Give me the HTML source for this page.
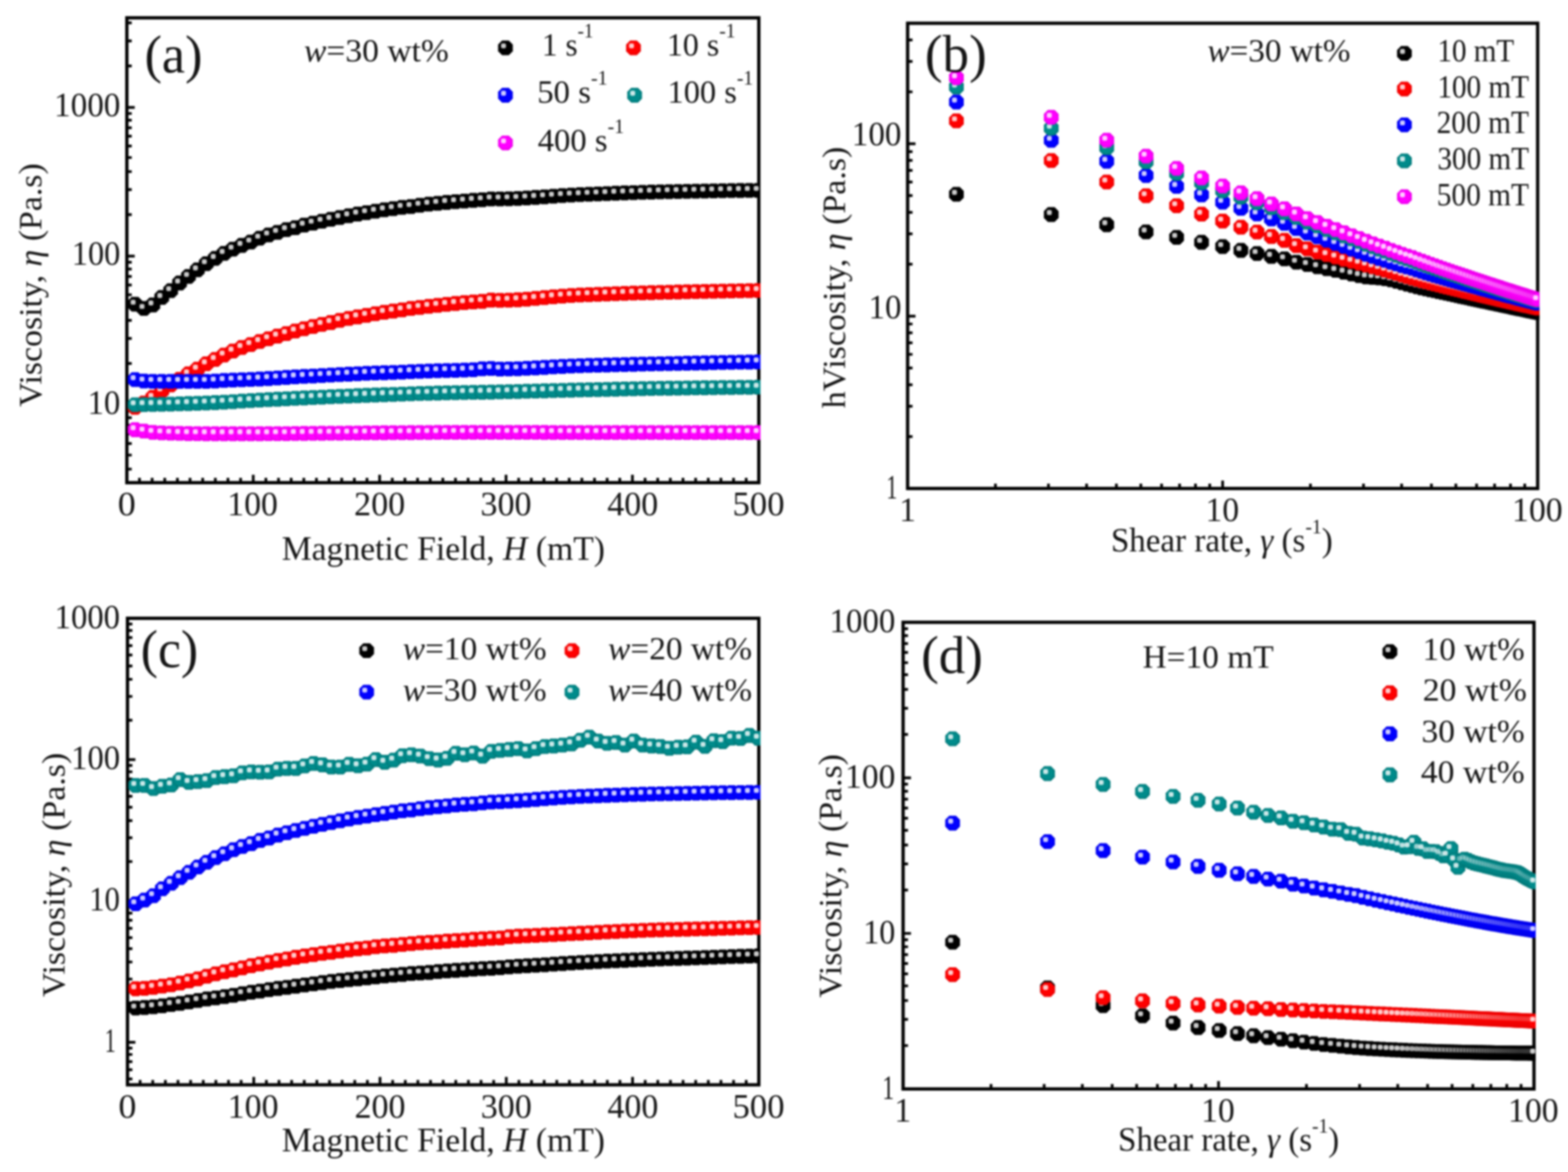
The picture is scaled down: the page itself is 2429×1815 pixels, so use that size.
<!DOCTYPE html>
<html lang="en"><head><meta charset="utf-8"><title>Viscosity figure</title>
<style>
html,body{margin:0;padding:0;background:#fff}
body{width:2429px;height:1815px;overflow:hidden}
svg{display:block;font-family:"Liberation Serif", serif;filter:blur(1.45px)}
text{white-space:pre;fill-opacity:0.92}
</style></head><body>

<svg xmlns="http://www.w3.org/2000/svg" width="2429" height="1815" viewBox="0 0 2429 1815">
<defs>
<radialGradient id="gk" cx="0.5" cy="0.5" r="0.5" fx="0.4" fy="0.4"><stop offset="0" stop-color="#000000"/><stop offset="0.75" stop-color="#000000"/><stop offset="1" stop-color="#000000"/></radialGradient>
<polygon id="k" points="-5.2,-11.4 5.2,-11.4 11.4,-5.2 11.4,5.2 5.2,11.4 -5.2,11.4 -11.4,5.2 -11.4,-5.2" fill="url(#gk)"/>
<radialGradient id="gr" cx="0.5" cy="0.5" r="0.5" fx="0.4" fy="0.4"><stop offset="0" stop-color="#ff0000"/><stop offset="0.75" stop-color="#ff0000"/><stop offset="1" stop-color="#e80000"/></radialGradient>
<polygon id="r" points="-5.2,-11.4 5.2,-11.4 11.4,-5.2 11.4,5.2 5.2,11.4 -5.2,11.4 -11.4,5.2 -11.4,-5.2" fill="url(#gr)"/>
<radialGradient id="gb" cx="0.5" cy="0.5" r="0.5" fx="0.4" fy="0.4"><stop offset="0" stop-color="#0000ff"/><stop offset="0.75" stop-color="#0000ff"/><stop offset="1" stop-color="#0000e8"/></radialGradient>
<polygon id="b" points="-5.2,-11.4 5.2,-11.4 11.4,-5.2 11.4,5.2 5.2,11.4 -5.2,11.4 -11.4,5.2 -11.4,-5.2" fill="url(#gb)"/>
<radialGradient id="gt" cx="0.5" cy="0.5" r="0.5" fx="0.4" fy="0.4"><stop offset="0" stop-color="#008b8b"/><stop offset="0.75" stop-color="#008b8b"/><stop offset="1" stop-color="#007878"/></radialGradient>
<polygon id="t" points="-5.2,-11.4 5.2,-11.4 11.4,-5.2 11.4,5.2 5.2,11.4 -5.2,11.4 -11.4,5.2 -11.4,-5.2" fill="url(#gt)"/>
<radialGradient id="gm" cx="0.5" cy="0.5" r="0.5" fx="0.4" fy="0.4"><stop offset="0" stop-color="#ff00ff"/><stop offset="0.75" stop-color="#ff00ff"/><stop offset="1" stop-color="#e800e8"/></radialGradient>
<polygon id="m" points="-5.2,-11.4 5.2,-11.4 11.4,-5.2 11.4,5.2 5.2,11.4 -5.2,11.4 -11.4,5.2 -11.4,-5.2" fill="url(#gm)"/>
<radialGradient id="gh"><stop offset="0" stop-color="#fff" stop-opacity="0.85"/><stop offset="0.45" stop-color="#fff" stop-opacity="0.75"/><stop offset="1" stop-color="#fff" stop-opacity="0"/></radialGradient>
<rect id="h" x="-6.8" y="-6.9" width="7.6" height="7.6" rx="2.2" fill="#fff" fill-opacity="0.8"/>
<clipPath id="cpa"><rect x="193.95" y="25.05" width="984.1" height="725"/></clipPath>
<clipPath id="cpb"><rect x="1403.45" y="33.45" width="981.1" height="725.6"/></clipPath>
<clipPath id="cpc"><rect x="194.95" y="954.95" width="983.1" height="727.6"/></clipPath>
<clipPath id="cpd"><rect x="1396.45" y="961.15" width="982.4" height="727.8"/></clipPath>
</defs>
<rect width="2429" height="1815" fill="#fff"/>
<g id="panel-a">
<rect x="196.5" y="27.6" width="979" height="719.9" fill="none" stroke="#000" stroke-width="5.1"/>
<path d="M392.3 747.5v-12.2M588.1 747.5v-12.2M783.9 747.5v-12.2M979.7 747.5v-12.2M216.08 747.5v-7.6M235.66 747.5v-7.6M255.24 747.5v-7.6M274.82 747.5v-7.6M294.4 747.5v-7.6M313.98 747.5v-7.6M333.56 747.5v-7.6M353.14 747.5v-7.6M372.72 747.5v-7.6M411.88 747.5v-7.6M431.46 747.5v-7.6M451.04 747.5v-7.6M470.62 747.5v-7.6M490.2 747.5v-7.6M509.78 747.5v-7.6M529.36 747.5v-7.6M548.94 747.5v-7.6M568.52 747.5v-7.6M607.68 747.5v-7.6M627.26 747.5v-7.6M646.84 747.5v-7.6M666.42 747.5v-7.6M686 747.5v-7.6M705.58 747.5v-7.6M725.16 747.5v-7.6M744.74 747.5v-7.6M764.32 747.5v-7.6M803.48 747.5v-7.6M823.06 747.5v-7.6M842.64 747.5v-7.6M862.22 747.5v-7.6M881.8 747.5v-7.6M901.38 747.5v-7.6M920.96 747.5v-7.6M940.54 747.5v-7.6M960.12 747.5v-7.6M999.28 747.5v-7.6M1018.86 747.5v-7.6M1038.44 747.5v-7.6M1058.02 747.5v-7.6M1077.6 747.5v-7.6M1097.18 747.5v-7.6M1116.76 747.5v-7.6M1136.34 747.5v-7.6M1155.92 747.5v-7.6" stroke="#000" stroke-width="4.2" fill="none"/>
<path d="M196.5 627.04h12.2M196.5 396.67h12.2M196.5 166.3h12.2M196.5 726.52h7.6M196.5 704.73h7.6M196.5 686.86h7.6M196.5 671.69h7.6M196.5 658.53h7.6M196.5 646.9h7.6M196.5 636.48h7.6M196.5 562.83h7.6M196.5 524.03h7.6M196.5 496.15h7.6M196.5 474.36h7.6M196.5 456.48h7.6M196.5 441.32h7.6M196.5 428.16h7.6M196.5 416.53h7.6M196.5 406.11h7.6M196.5 332.45h7.6M196.5 293.66h7.6M196.5 265.77h7.6M196.5 243.99h7.6M196.5 226.11h7.6M196.5 210.95h7.6M196.5 197.78h7.6M196.5 186.15h7.6M196.5 175.73h7.6M196.5 102.08h7.6M196.5 63.29h7.6M196.5 35.4h7.6" stroke="#000" stroke-width="4.2" fill="none"/>
<text transform="translate(83.85 179.8) scale(0.9867 1.0000)" font-size="52" fill="#000">1000</text>
<text transform="translate(111.14 410.17) scale(0.9653 1.0000)" font-size="52" fill="#000">100</text>
<text transform="translate(135.8 640.54) scale(0.9739 1.0000)" font-size="52" fill="#000">10</text>
<text transform="translate(182.61 798.3) scale(1.0682 1.0000)" font-size="52" fill="#000">0</text>
<text transform="translate(352.02 798.3) scale(1.0069 1.0000)" font-size="52" fill="#000">100</text>
<text transform="translate(548.57 798.3) scale(1.0135 1.0000)" font-size="52" fill="#000">200</text>
<text transform="translate(744.37 798.3) scale(1.0135 1.0000)" font-size="52" fill="#000">300</text>
<text transform="translate(940.69 798.3) scale(1.0133 1.0000)" font-size="52" fill="#000">400</text>
<text transform="translate(1134.65 798.3) scale(1.0342 1.0000)" font-size="52" fill="#000">500</text>
<text transform="translate(436.41 866.8) scale(0.9926 1.0000)" font-size="52.5" fill="#000">Magnetic Field, <tspan font-style="italic">H</tspan> (mT)</text>
<text transform="translate(64 630.1) rotate(-90) scale(1.0472 1.0000)" font-size="50" fill="#000">Viscosity, <tspan font-style="italic">η</tspan> (Pa.s)</text>
<g clip-path="url(#cpa)">
<use href="#k" x="209.2" y="471.13"/><use href="#k" x="222.99" y="477.63"/><use href="#k" x="236.78" y="472.25"/><use href="#k" x="250.57" y="460.71"/><use href="#k" x="264.35" y="450.12"/><use href="#k" x="278.14" y="438.27"/><use href="#k" x="291.93" y="428.05"/><use href="#k" x="305.72" y="417.97"/><use href="#k" x="319.51" y="408.31"/><use href="#k" x="333.3" y="400.18"/><use href="#k" x="347.09" y="392.46"/><use href="#k" x="360.87" y="385.81"/><use href="#k" x="374.66" y="380"/><use href="#k" x="388.45" y="374.87"/><use href="#k" x="402.24" y="368.91"/><use href="#k" x="416.03" y="363.92"/><use href="#k" x="429.82" y="359.86"/><use href="#k" x="443.61" y="355.72"/><use href="#k" x="457.39" y="352.54"/><use href="#k" x="471.18" y="348.69"/><use href="#k" x="484.97" y="345.64"/><use href="#k" x="498.76" y="342.61"/><use href="#k" x="512.55" y="339.69"/><use href="#k" x="526.34" y="336.93"/><use href="#k" x="540.13" y="334.22"/><use href="#k" x="553.91" y="331.51"/><use href="#k" x="567.7" y="329.34"/><use href="#k" x="581.49" y="327.14"/><use href="#k" x="595.28" y="324.97"/><use href="#k" x="609.07" y="323.03"/><use href="#k" x="622.86" y="321.13"/><use href="#k" x="636.65" y="319.78"/><use href="#k" x="650.43" y="317.86"/><use href="#k" x="664.22" y="316.2"/><use href="#k" x="678.01" y="314.88"/><use href="#k" x="691.8" y="313.5"/><use href="#k" x="705.59" y="312.39"/><use href="#k" x="719.38" y="311.33"/><use href="#k" x="733.17" y="310.23"/><use href="#k" x="746.95" y="309.42"/><use href="#k" x="760.74" y="308.07"/><use href="#k" x="774.53" y="308.03"/><use href="#k" x="788.32" y="307.82"/><use href="#k" x="802.11" y="307.32"/><use href="#k" x="815.9" y="306.61"/><use href="#k" x="829.69" y="305.74"/><use href="#k" x="843.47" y="304.79"/><use href="#k" x="857.26" y="303.82"/><use href="#k" x="871.05" y="302.89"/><use href="#k" x="884.84" y="302.08"/><use href="#k" x="898.63" y="301.44"/><use href="#k" x="912.42" y="300.87"/><use href="#k" x="926.21" y="300.32"/><use href="#k" x="939.99" y="299.78"/><use href="#k" x="953.78" y="299.26"/><use href="#k" x="967.57" y="298.77"/><use href="#k" x="981.36" y="298.31"/><use href="#k" x="995.15" y="297.88"/><use href="#k" x="1008.94" y="297.49"/><use href="#k" x="1022.73" y="297.15"/><use href="#k" x="1036.51" y="296.85"/><use href="#k" x="1050.3" y="296.57"/><use href="#k" x="1064.09" y="296.29"/><use href="#k" x="1077.88" y="296.03"/><use href="#k" x="1091.67" y="295.78"/><use href="#k" x="1105.46" y="295.56"/><use href="#k" x="1119.25" y="295.35"/><use href="#k" x="1133.03" y="295.16"/><use href="#k" x="1146.82" y="295.01"/><use href="#k" x="1160.61" y="294.88"/><use href="#k" x="1174.4" y="294.79"/><use href="#h" x="209.2" y="471.13"/><use href="#h" x="222.99" y="477.63"/><use href="#h" x="236.78" y="472.25"/><use href="#h" x="250.57" y="460.71"/><use href="#h" x="264.35" y="450.12"/><use href="#h" x="278.14" y="438.27"/><use href="#h" x="291.93" y="428.05"/><use href="#h" x="305.72" y="417.97"/><use href="#h" x="319.51" y="408.31"/><use href="#h" x="333.3" y="400.18"/><use href="#h" x="347.09" y="392.46"/><use href="#h" x="360.87" y="385.81"/><use href="#h" x="374.66" y="380"/><use href="#h" x="388.45" y="374.87"/><use href="#h" x="402.24" y="368.91"/><use href="#h" x="416.03" y="363.92"/><use href="#h" x="429.82" y="359.86"/><use href="#h" x="443.61" y="355.72"/><use href="#h" x="457.39" y="352.54"/><use href="#h" x="471.18" y="348.69"/><use href="#h" x="484.97" y="345.64"/><use href="#h" x="498.76" y="342.61"/><use href="#h" x="512.55" y="339.69"/><use href="#h" x="526.34" y="336.93"/><use href="#h" x="540.13" y="334.22"/><use href="#h" x="553.91" y="331.51"/><use href="#h" x="567.7" y="329.34"/><use href="#h" x="581.49" y="327.14"/><use href="#h" x="595.28" y="324.97"/><use href="#h" x="609.07" y="323.03"/><use href="#h" x="622.86" y="321.13"/><use href="#h" x="636.65" y="319.78"/><use href="#h" x="650.43" y="317.86"/><use href="#h" x="664.22" y="316.2"/><use href="#h" x="678.01" y="314.88"/><use href="#h" x="691.8" y="313.5"/><use href="#h" x="705.59" y="312.39"/><use href="#h" x="719.38" y="311.33"/><use href="#h" x="733.17" y="310.23"/><use href="#h" x="746.95" y="309.42"/><use href="#h" x="760.74" y="308.07"/><use href="#h" x="774.53" y="308.03"/><use href="#h" x="788.32" y="307.82"/><use href="#h" x="802.11" y="307.32"/><use href="#h" x="815.9" y="306.61"/><use href="#h" x="829.69" y="305.74"/><use href="#h" x="843.47" y="304.79"/><use href="#h" x="857.26" y="303.82"/><use href="#h" x="871.05" y="302.89"/><use href="#h" x="884.84" y="302.08"/><use href="#h" x="898.63" y="301.44"/><use href="#h" x="912.42" y="300.87"/><use href="#h" x="926.21" y="300.32"/><use href="#h" x="939.99" y="299.78"/><use href="#h" x="953.78" y="299.26"/><use href="#h" x="967.57" y="298.77"/><use href="#h" x="981.36" y="298.31"/><use href="#h" x="995.15" y="297.88"/><use href="#h" x="1008.94" y="297.49"/><use href="#h" x="1022.73" y="297.15"/><use href="#h" x="1036.51" y="296.85"/><use href="#h" x="1050.3" y="296.57"/><use href="#h" x="1064.09" y="296.29"/><use href="#h" x="1077.88" y="296.03"/><use href="#h" x="1091.67" y="295.78"/><use href="#h" x="1105.46" y="295.56"/><use href="#h" x="1119.25" y="295.35"/><use href="#h" x="1133.03" y="295.16"/><use href="#h" x="1146.82" y="295.01"/><use href="#h" x="1160.61" y="294.88"/><use href="#h" x="1174.4" y="294.79"/>
<use href="#r" x="209.2" y="630.89"/><use href="#r" x="222.99" y="624.12"/><use href="#r" x="236.78" y="615.33"/><use href="#r" x="250.57" y="605.4"/><use href="#r" x="264.35" y="596.12"/><use href="#r" x="278.14" y="587.29"/><use href="#r" x="291.93" y="579.01"/><use href="#r" x="305.72" y="571.73"/><use href="#r" x="319.51" y="563.46"/><use href="#r" x="333.3" y="556.7"/><use href="#r" x="347.09" y="549.8"/><use href="#r" x="360.87" y="543.69"/><use href="#r" x="374.66" y="538.16"/><use href="#r" x="388.45" y="533.55"/><use href="#r" x="402.24" y="528.96"/><use href="#r" x="416.03" y="524.54"/><use href="#r" x="429.82" y="520.48"/><use href="#r" x="443.61" y="516.61"/><use href="#r" x="457.39" y="512.63"/><use href="#r" x="471.18" y="509.03"/><use href="#r" x="484.97" y="505.72"/><use href="#r" x="498.76" y="502.41"/><use href="#r" x="512.55" y="499.5"/><use href="#r" x="526.34" y="496.19"/><use href="#r" x="540.13" y="493.21"/><use href="#r" x="553.91" y="490.77"/><use href="#r" x="567.7" y="488.34"/><use href="#r" x="581.49" y="485.85"/><use href="#r" x="595.28" y="483.68"/><use href="#r" x="609.07" y="481.75"/><use href="#r" x="622.86" y="479.86"/><use href="#r" x="636.65" y="477.69"/><use href="#r" x="650.43" y="476.03"/><use href="#r" x="664.22" y="474.37"/><use href="#r" x="678.01" y="472.78"/><use href="#r" x="691.8" y="471.39"/><use href="#r" x="705.59" y="470.02"/><use href="#r" x="719.38" y="468.69"/><use href="#r" x="733.17" y="467.58"/><use href="#r" x="746.95" y="466.77"/><use href="#r" x="760.74" y="464.75"/><use href="#r" x="774.53" y="465.1"/><use href="#r" x="788.32" y="464.89"/><use href="#r" x="802.11" y="464.27"/><use href="#r" x="815.9" y="463.34"/><use href="#r" x="829.69" y="462.21"/><use href="#r" x="843.47" y="460.97"/><use href="#r" x="857.26" y="459.72"/><use href="#r" x="871.05" y="458.55"/><use href="#r" x="884.84" y="457.58"/><use href="#r" x="898.63" y="456.88"/><use href="#r" x="912.42" y="456.31"/><use href="#r" x="926.21" y="455.78"/><use href="#r" x="939.99" y="455.28"/><use href="#r" x="953.78" y="454.82"/><use href="#r" x="967.57" y="454.38"/><use href="#r" x="981.36" y="453.97"/><use href="#r" x="995.15" y="453.59"/><use href="#r" x="1008.94" y="453.23"/><use href="#r" x="1022.73" y="452.88"/><use href="#r" x="1036.51" y="452.55"/><use href="#r" x="1050.3" y="452.23"/><use href="#r" x="1064.09" y="451.92"/><use href="#r" x="1077.88" y="451.62"/><use href="#r" x="1091.67" y="451.34"/><use href="#r" x="1105.46" y="451.06"/><use href="#r" x="1119.25" y="450.81"/><use href="#r" x="1133.03" y="450.57"/><use href="#r" x="1146.82" y="450.35"/><use href="#r" x="1160.61" y="450.15"/><use href="#r" x="1174.4" y="449.97"/><use href="#h" x="209.2" y="630.89"/><use href="#h" x="222.99" y="624.12"/><use href="#h" x="236.78" y="615.33"/><use href="#h" x="250.57" y="605.4"/><use href="#h" x="264.35" y="596.12"/><use href="#h" x="278.14" y="587.29"/><use href="#h" x="291.93" y="579.01"/><use href="#h" x="305.72" y="571.73"/><use href="#h" x="319.51" y="563.46"/><use href="#h" x="333.3" y="556.7"/><use href="#h" x="347.09" y="549.8"/><use href="#h" x="360.87" y="543.69"/><use href="#h" x="374.66" y="538.16"/><use href="#h" x="388.45" y="533.55"/><use href="#h" x="402.24" y="528.96"/><use href="#h" x="416.03" y="524.54"/><use href="#h" x="429.82" y="520.48"/><use href="#h" x="443.61" y="516.61"/><use href="#h" x="457.39" y="512.63"/><use href="#h" x="471.18" y="509.03"/><use href="#h" x="484.97" y="505.72"/><use href="#h" x="498.76" y="502.41"/><use href="#h" x="512.55" y="499.5"/><use href="#h" x="526.34" y="496.19"/><use href="#h" x="540.13" y="493.21"/><use href="#h" x="553.91" y="490.77"/><use href="#h" x="567.7" y="488.34"/><use href="#h" x="581.49" y="485.85"/><use href="#h" x="595.28" y="483.68"/><use href="#h" x="609.07" y="481.75"/><use href="#h" x="622.86" y="479.86"/><use href="#h" x="636.65" y="477.69"/><use href="#h" x="650.43" y="476.03"/><use href="#h" x="664.22" y="474.37"/><use href="#h" x="678.01" y="472.78"/><use href="#h" x="691.8" y="471.39"/><use href="#h" x="705.59" y="470.02"/><use href="#h" x="719.38" y="468.69"/><use href="#h" x="733.17" y="467.58"/><use href="#h" x="746.95" y="466.77"/><use href="#h" x="760.74" y="464.75"/><use href="#h" x="774.53" y="465.1"/><use href="#h" x="788.32" y="464.89"/><use href="#h" x="802.11" y="464.27"/><use href="#h" x="815.9" y="463.34"/><use href="#h" x="829.69" y="462.21"/><use href="#h" x="843.47" y="460.97"/><use href="#h" x="857.26" y="459.72"/><use href="#h" x="871.05" y="458.55"/><use href="#h" x="884.84" y="457.58"/><use href="#h" x="898.63" y="456.88"/><use href="#h" x="912.42" y="456.31"/><use href="#h" x="926.21" y="455.78"/><use href="#h" x="939.99" y="455.28"/><use href="#h" x="953.78" y="454.82"/><use href="#h" x="967.57" y="454.38"/><use href="#h" x="981.36" y="453.97"/><use href="#h" x="995.15" y="453.59"/><use href="#h" x="1008.94" y="453.23"/><use href="#h" x="1022.73" y="452.88"/><use href="#h" x="1036.51" y="452.55"/><use href="#h" x="1050.3" y="452.23"/><use href="#h" x="1064.09" y="451.92"/><use href="#h" x="1077.88" y="451.62"/><use href="#h" x="1091.67" y="451.34"/><use href="#h" x="1105.46" y="451.06"/><use href="#h" x="1119.25" y="450.81"/><use href="#h" x="1133.03" y="450.57"/><use href="#h" x="1146.82" y="450.35"/><use href="#h" x="1160.61" y="450.15"/><use href="#h" x="1174.4" y="449.97"/>
<use href="#b" x="209.2" y="587.95"/><use href="#b" x="222.99" y="590.04"/><use href="#b" x="236.78" y="590.61"/><use href="#b" x="250.57" y="590.61"/><use href="#b" x="264.35" y="590.61"/><use href="#b" x="278.14" y="590.61"/><use href="#b" x="291.93" y="590.61"/><use href="#b" x="305.72" y="590.61"/><use href="#b" x="319.51" y="590.6"/><use href="#b" x="333.3" y="590.04"/><use href="#b" x="347.09" y="589.21"/><use href="#b" x="360.87" y="588.65"/><use href="#b" x="374.66" y="588.13"/><use href="#b" x="388.45" y="587.61"/><use href="#b" x="402.24" y="587"/><use href="#b" x="416.03" y="586.23"/><use href="#b" x="429.82" y="585.36"/><use href="#b" x="443.61" y="584.48"/><use href="#b" x="457.39" y="583.68"/><use href="#b" x="471.18" y="582.97"/><use href="#b" x="484.97" y="582.28"/><use href="#b" x="498.76" y="581.61"/><use href="#b" x="512.55" y="580.93"/><use href="#b" x="526.34" y="580.21"/><use href="#b" x="540.13" y="579.49"/><use href="#b" x="553.91" y="578.81"/><use href="#b" x="567.7" y="578.21"/><use href="#b" x="581.49" y="577.71"/><use href="#b" x="595.28" y="577.25"/><use href="#b" x="609.07" y="576.79"/><use href="#b" x="622.86" y="576.28"/><use href="#b" x="636.65" y="575.71"/><use href="#b" x="650.43" y="575.12"/><use href="#b" x="664.22" y="574.57"/><use href="#b" x="678.01" y="574.13"/><use href="#b" x="691.8" y="573.82"/><use href="#b" x="705.59" y="573.54"/><use href="#b" x="719.38" y="573.19"/><use href="#b" x="733.17" y="572.56"/><use href="#b" x="746.95" y="571.22"/><use href="#b" x="760.74" y="570.58"/><use href="#b" x="774.53" y="571.55"/><use href="#b" x="788.32" y="571.42"/><use href="#b" x="802.11" y="571.04"/><use href="#b" x="815.9" y="570.47"/><use href="#b" x="829.69" y="569.77"/><use href="#b" x="843.47" y="569"/><use href="#b" x="857.26" y="568.22"/><use href="#b" x="871.05" y="567.48"/><use href="#b" x="884.84" y="566.84"/><use href="#b" x="898.63" y="566.36"/><use href="#b" x="912.42" y="565.96"/><use href="#b" x="926.21" y="565.58"/><use href="#b" x="939.99" y="565.23"/><use href="#b" x="953.78" y="564.89"/><use href="#b" x="967.57" y="564.57"/><use href="#b" x="981.36" y="564.26"/><use href="#b" x="995.15" y="563.97"/><use href="#b" x="1008.94" y="563.67"/><use href="#b" x="1022.73" y="563.38"/><use href="#b" x="1036.51" y="563.09"/><use href="#b" x="1050.3" y="562.8"/><use href="#b" x="1064.09" y="562.52"/><use href="#b" x="1077.88" y="562.25"/><use href="#b" x="1091.67" y="561.98"/><use href="#b" x="1105.46" y="561.71"/><use href="#b" x="1119.25" y="561.46"/><use href="#b" x="1133.03" y="561.21"/><use href="#b" x="1146.82" y="560.96"/><use href="#b" x="1160.61" y="560.73"/><use href="#b" x="1174.4" y="560.5"/><use href="#h" x="209.2" y="587.95"/><use href="#h" x="222.99" y="590.04"/><use href="#h" x="236.78" y="590.61"/><use href="#h" x="250.57" y="590.61"/><use href="#h" x="264.35" y="590.61"/><use href="#h" x="278.14" y="590.61"/><use href="#h" x="291.93" y="590.61"/><use href="#h" x="305.72" y="590.61"/><use href="#h" x="319.51" y="590.6"/><use href="#h" x="333.3" y="590.04"/><use href="#h" x="347.09" y="589.21"/><use href="#h" x="360.87" y="588.65"/><use href="#h" x="374.66" y="588.13"/><use href="#h" x="388.45" y="587.61"/><use href="#h" x="402.24" y="587"/><use href="#h" x="416.03" y="586.23"/><use href="#h" x="429.82" y="585.36"/><use href="#h" x="443.61" y="584.48"/><use href="#h" x="457.39" y="583.68"/><use href="#h" x="471.18" y="582.97"/><use href="#h" x="484.97" y="582.28"/><use href="#h" x="498.76" y="581.61"/><use href="#h" x="512.55" y="580.93"/><use href="#h" x="526.34" y="580.21"/><use href="#h" x="540.13" y="579.49"/><use href="#h" x="553.91" y="578.81"/><use href="#h" x="567.7" y="578.21"/><use href="#h" x="581.49" y="577.71"/><use href="#h" x="595.28" y="577.25"/><use href="#h" x="609.07" y="576.79"/><use href="#h" x="622.86" y="576.28"/><use href="#h" x="636.65" y="575.71"/><use href="#h" x="650.43" y="575.12"/><use href="#h" x="664.22" y="574.57"/><use href="#h" x="678.01" y="574.13"/><use href="#h" x="691.8" y="573.82"/><use href="#h" x="705.59" y="573.54"/><use href="#h" x="719.38" y="573.19"/><use href="#h" x="733.17" y="572.56"/><use href="#h" x="746.95" y="571.22"/><use href="#h" x="760.74" y="570.58"/><use href="#h" x="774.53" y="571.55"/><use href="#h" x="788.32" y="571.42"/><use href="#h" x="802.11" y="571.04"/><use href="#h" x="815.9" y="570.47"/><use href="#h" x="829.69" y="569.77"/><use href="#h" x="843.47" y="569"/><use href="#h" x="857.26" y="568.22"/><use href="#h" x="871.05" y="567.48"/><use href="#h" x="884.84" y="566.84"/><use href="#h" x="898.63" y="566.36"/><use href="#h" x="912.42" y="565.96"/><use href="#h" x="926.21" y="565.58"/><use href="#h" x="939.99" y="565.23"/><use href="#h" x="953.78" y="564.89"/><use href="#h" x="967.57" y="564.57"/><use href="#h" x="981.36" y="564.26"/><use href="#h" x="995.15" y="563.97"/><use href="#h" x="1008.94" y="563.67"/><use href="#h" x="1022.73" y="563.38"/><use href="#h" x="1036.51" y="563.09"/><use href="#h" x="1050.3" y="562.8"/><use href="#h" x="1064.09" y="562.52"/><use href="#h" x="1077.88" y="562.25"/><use href="#h" x="1091.67" y="561.98"/><use href="#h" x="1105.46" y="561.71"/><use href="#h" x="1119.25" y="561.46"/><use href="#h" x="1133.03" y="561.21"/><use href="#h" x="1146.82" y="560.96"/><use href="#h" x="1160.61" y="560.73"/><use href="#h" x="1174.4" y="560.5"/>
<use href="#t" x="209.2" y="626.81"/><use href="#t" x="222.99" y="626.66"/><use href="#t" x="236.78" y="626.43"/><use href="#t" x="250.57" y="626.14"/><use href="#t" x="264.35" y="625.8"/><use href="#t" x="278.14" y="625.42"/><use href="#t" x="291.93" y="624.99"/><use href="#t" x="305.72" y="624.54"/><use href="#t" x="319.51" y="624.08"/><use href="#t" x="333.3" y="623.51"/><use href="#t" x="347.09" y="622.82"/><use href="#t" x="360.87" y="622.03"/><use href="#t" x="374.66" y="621.21"/><use href="#t" x="388.45" y="620.41"/><use href="#t" x="402.24" y="619.66"/><use href="#t" x="416.03" y="618.95"/><use href="#t" x="429.82" y="618.25"/><use href="#t" x="443.61" y="617.57"/><use href="#t" x="457.39" y="616.91"/><use href="#t" x="471.18" y="616.27"/><use href="#t" x="484.97" y="615.64"/><use href="#t" x="498.76" y="615.03"/><use href="#t" x="512.55" y="614.44"/><use href="#t" x="526.34" y="613.87"/><use href="#t" x="540.13" y="613.31"/><use href="#t" x="553.91" y="612.77"/><use href="#t" x="567.7" y="612.25"/><use href="#t" x="581.49" y="611.75"/><use href="#t" x="595.28" y="611.26"/><use href="#t" x="609.07" y="610.79"/><use href="#t" x="622.86" y="610.34"/><use href="#t" x="636.65" y="609.89"/><use href="#t" x="650.43" y="609.46"/><use href="#t" x="664.22" y="609.07"/><use href="#t" x="678.01" y="608.73"/><use href="#t" x="691.8" y="608.42"/><use href="#t" x="705.59" y="608.14"/><use href="#t" x="719.38" y="607.89"/><use href="#t" x="733.17" y="607.67"/><use href="#t" x="746.95" y="607.49"/><use href="#t" x="760.74" y="607.27"/><use href="#t" x="774.53" y="606.95"/><use href="#t" x="788.32" y="606.63"/><use href="#t" x="802.11" y="606.29"/><use href="#t" x="815.9" y="605.95"/><use href="#t" x="829.69" y="605.6"/><use href="#t" x="843.47" y="605.26"/><use href="#t" x="857.26" y="604.92"/><use href="#t" x="871.05" y="604.59"/><use href="#t" x="884.84" y="604.27"/><use href="#t" x="898.63" y="603.96"/><use href="#t" x="912.42" y="603.66"/><use href="#t" x="926.21" y="603.35"/><use href="#t" x="939.99" y="603.05"/><use href="#t" x="953.78" y="602.75"/><use href="#t" x="967.57" y="602.46"/><use href="#t" x="981.36" y="602.18"/><use href="#t" x="995.15" y="601.92"/><use href="#t" x="1008.94" y="601.67"/><use href="#t" x="1022.73" y="601.44"/><use href="#t" x="1036.51" y="601.24"/><use href="#t" x="1050.3" y="601.04"/><use href="#t" x="1064.09" y="600.85"/><use href="#t" x="1077.88" y="600.67"/><use href="#t" x="1091.67" y="600.5"/><use href="#t" x="1105.46" y="600.34"/><use href="#t" x="1119.25" y="600.18"/><use href="#t" x="1133.03" y="600.04"/><use href="#t" x="1146.82" y="599.91"/><use href="#t" x="1160.61" y="599.79"/><use href="#t" x="1174.4" y="599.69"/><use href="#h" x="209.2" y="626.81"/><use href="#h" x="222.99" y="626.66"/><use href="#h" x="236.78" y="626.43"/><use href="#h" x="250.57" y="626.14"/><use href="#h" x="264.35" y="625.8"/><use href="#h" x="278.14" y="625.42"/><use href="#h" x="291.93" y="624.99"/><use href="#h" x="305.72" y="624.54"/><use href="#h" x="319.51" y="624.08"/><use href="#h" x="333.3" y="623.51"/><use href="#h" x="347.09" y="622.82"/><use href="#h" x="360.87" y="622.03"/><use href="#h" x="374.66" y="621.21"/><use href="#h" x="388.45" y="620.41"/><use href="#h" x="402.24" y="619.66"/><use href="#h" x="416.03" y="618.95"/><use href="#h" x="429.82" y="618.25"/><use href="#h" x="443.61" y="617.57"/><use href="#h" x="457.39" y="616.91"/><use href="#h" x="471.18" y="616.27"/><use href="#h" x="484.97" y="615.64"/><use href="#h" x="498.76" y="615.03"/><use href="#h" x="512.55" y="614.44"/><use href="#h" x="526.34" y="613.87"/><use href="#h" x="540.13" y="613.31"/><use href="#h" x="553.91" y="612.77"/><use href="#h" x="567.7" y="612.25"/><use href="#h" x="581.49" y="611.75"/><use href="#h" x="595.28" y="611.26"/><use href="#h" x="609.07" y="610.79"/><use href="#h" x="622.86" y="610.34"/><use href="#h" x="636.65" y="609.89"/><use href="#h" x="650.43" y="609.46"/><use href="#h" x="664.22" y="609.07"/><use href="#h" x="678.01" y="608.73"/><use href="#h" x="691.8" y="608.42"/><use href="#h" x="705.59" y="608.14"/><use href="#h" x="719.38" y="607.89"/><use href="#h" x="733.17" y="607.67"/><use href="#h" x="746.95" y="607.49"/><use href="#h" x="760.74" y="607.27"/><use href="#h" x="774.53" y="606.95"/><use href="#h" x="788.32" y="606.63"/><use href="#h" x="802.11" y="606.29"/><use href="#h" x="815.9" y="605.95"/><use href="#h" x="829.69" y="605.6"/><use href="#h" x="843.47" y="605.26"/><use href="#h" x="857.26" y="604.92"/><use href="#h" x="871.05" y="604.59"/><use href="#h" x="884.84" y="604.27"/><use href="#h" x="898.63" y="603.96"/><use href="#h" x="912.42" y="603.66"/><use href="#h" x="926.21" y="603.35"/><use href="#h" x="939.99" y="603.05"/><use href="#h" x="953.78" y="602.75"/><use href="#h" x="967.57" y="602.46"/><use href="#h" x="981.36" y="602.18"/><use href="#h" x="995.15" y="601.92"/><use href="#h" x="1008.94" y="601.67"/><use href="#h" x="1022.73" y="601.44"/><use href="#h" x="1036.51" y="601.24"/><use href="#h" x="1050.3" y="601.04"/><use href="#h" x="1064.09" y="600.85"/><use href="#h" x="1077.88" y="600.67"/><use href="#h" x="1091.67" y="600.5"/><use href="#h" x="1105.46" y="600.34"/><use href="#h" x="1119.25" y="600.18"/><use href="#h" x="1133.03" y="600.04"/><use href="#h" x="1146.82" y="599.91"/><use href="#h" x="1160.61" y="599.79"/><use href="#h" x="1174.4" y="599.69"/>
<use href="#m" x="209.2" y="665.52"/><use href="#m" x="222.99" y="667.6"/><use href="#m" x="236.78" y="669.54"/><use href="#m" x="250.57" y="670.4"/><use href="#m" x="264.35" y="670.91"/><use href="#m" x="278.14" y="671.22"/><use href="#m" x="291.93" y="671.49"/><use href="#m" x="305.72" y="671.67"/><use href="#m" x="319.51" y="671.73"/><use href="#m" x="333.3" y="671.73"/><use href="#m" x="347.09" y="671.73"/><use href="#m" x="360.87" y="671.73"/><use href="#m" x="374.66" y="671.73"/><use href="#m" x="388.45" y="671.73"/><use href="#m" x="402.24" y="671.73"/><use href="#m" x="416.03" y="671.7"/><use href="#m" x="429.82" y="671.63"/><use href="#m" x="443.61" y="671.53"/><use href="#m" x="457.39" y="671.4"/><use href="#m" x="471.18" y="671.27"/><use href="#m" x="484.97" y="671.13"/><use href="#m" x="498.76" y="671"/><use href="#m" x="512.55" y="670.89"/><use href="#m" x="526.34" y="670.79"/><use href="#m" x="540.13" y="670.68"/><use href="#m" x="553.91" y="670.57"/><use href="#m" x="567.7" y="670.46"/><use href="#m" x="581.49" y="670.35"/><use href="#m" x="595.28" y="670.25"/><use href="#m" x="609.07" y="670.16"/><use href="#m" x="622.86" y="670.07"/><use href="#m" x="636.65" y="669.98"/><use href="#m" x="650.43" y="669.89"/><use href="#m" x="664.22" y="669.8"/><use href="#m" x="678.01" y="669.71"/><use href="#m" x="691.8" y="669.64"/><use href="#m" x="705.59" y="669.59"/><use href="#m" x="719.38" y="669.56"/><use href="#m" x="733.17" y="669.55"/><use href="#m" x="746.95" y="669.55"/><use href="#m" x="760.74" y="669.55"/><use href="#m" x="774.53" y="669.55"/><use href="#m" x="788.32" y="669.56"/><use href="#m" x="802.11" y="669.6"/><use href="#m" x="815.9" y="669.65"/><use href="#m" x="829.69" y="669.71"/><use href="#m" x="843.47" y="669.77"/><use href="#m" x="857.26" y="669.83"/><use href="#m" x="871.05" y="669.88"/><use href="#m" x="884.84" y="669.91"/><use href="#m" x="898.63" y="669.92"/><use href="#m" x="912.42" y="669.92"/><use href="#m" x="926.21" y="669.92"/><use href="#m" x="939.99" y="669.92"/><use href="#m" x="953.78" y="669.92"/><use href="#m" x="967.57" y="669.92"/><use href="#m" x="981.36" y="669.92"/><use href="#m" x="995.15" y="669.92"/><use href="#m" x="1008.94" y="669.92"/><use href="#m" x="1022.73" y="669.92"/><use href="#m" x="1036.51" y="669.92"/><use href="#m" x="1050.3" y="669.92"/><use href="#m" x="1064.09" y="669.92"/><use href="#m" x="1077.88" y="669.92"/><use href="#m" x="1091.67" y="669.92"/><use href="#m" x="1105.46" y="669.92"/><use href="#m" x="1119.25" y="669.92"/><use href="#m" x="1133.03" y="669.92"/><use href="#m" x="1146.82" y="669.92"/><use href="#m" x="1160.61" y="669.92"/><use href="#m" x="1174.4" y="669.92"/><use href="#h" x="209.2" y="665.52"/><use href="#h" x="222.99" y="667.6"/><use href="#h" x="236.78" y="669.54"/><use href="#h" x="250.57" y="670.4"/><use href="#h" x="264.35" y="670.91"/><use href="#h" x="278.14" y="671.22"/><use href="#h" x="291.93" y="671.49"/><use href="#h" x="305.72" y="671.67"/><use href="#h" x="319.51" y="671.73"/><use href="#h" x="333.3" y="671.73"/><use href="#h" x="347.09" y="671.73"/><use href="#h" x="360.87" y="671.73"/><use href="#h" x="374.66" y="671.73"/><use href="#h" x="388.45" y="671.73"/><use href="#h" x="402.24" y="671.73"/><use href="#h" x="416.03" y="671.7"/><use href="#h" x="429.82" y="671.63"/><use href="#h" x="443.61" y="671.53"/><use href="#h" x="457.39" y="671.4"/><use href="#h" x="471.18" y="671.27"/><use href="#h" x="484.97" y="671.13"/><use href="#h" x="498.76" y="671"/><use href="#h" x="512.55" y="670.89"/><use href="#h" x="526.34" y="670.79"/><use href="#h" x="540.13" y="670.68"/><use href="#h" x="553.91" y="670.57"/><use href="#h" x="567.7" y="670.46"/><use href="#h" x="581.49" y="670.35"/><use href="#h" x="595.28" y="670.25"/><use href="#h" x="609.07" y="670.16"/><use href="#h" x="622.86" y="670.07"/><use href="#h" x="636.65" y="669.98"/><use href="#h" x="650.43" y="669.89"/><use href="#h" x="664.22" y="669.8"/><use href="#h" x="678.01" y="669.71"/><use href="#h" x="691.8" y="669.64"/><use href="#h" x="705.59" y="669.59"/><use href="#h" x="719.38" y="669.56"/><use href="#h" x="733.17" y="669.55"/><use href="#h" x="746.95" y="669.55"/><use href="#h" x="760.74" y="669.55"/><use href="#h" x="774.53" y="669.55"/><use href="#h" x="788.32" y="669.56"/><use href="#h" x="802.11" y="669.6"/><use href="#h" x="815.9" y="669.65"/><use href="#h" x="829.69" y="669.71"/><use href="#h" x="843.47" y="669.77"/><use href="#h" x="857.26" y="669.83"/><use href="#h" x="871.05" y="669.88"/><use href="#h" x="884.84" y="669.91"/><use href="#h" x="898.63" y="669.92"/><use href="#h" x="912.42" y="669.92"/><use href="#h" x="926.21" y="669.92"/><use href="#h" x="939.99" y="669.92"/><use href="#h" x="953.78" y="669.92"/><use href="#h" x="967.57" y="669.92"/><use href="#h" x="981.36" y="669.92"/><use href="#h" x="995.15" y="669.92"/><use href="#h" x="1008.94" y="669.92"/><use href="#h" x="1022.73" y="669.92"/><use href="#h" x="1036.51" y="669.92"/><use href="#h" x="1050.3" y="669.92"/><use href="#h" x="1064.09" y="669.92"/><use href="#h" x="1077.88" y="669.92"/><use href="#h" x="1091.67" y="669.92"/><use href="#h" x="1105.46" y="669.92"/><use href="#h" x="1119.25" y="669.92"/><use href="#h" x="1133.03" y="669.92"/><use href="#h" x="1146.82" y="669.92"/><use href="#h" x="1160.61" y="669.92"/><use href="#h" x="1174.4" y="669.92"/>
</g>
<text transform="translate(223.95 112) scale(0.9847 1.0000)" font-size="82" fill="#000">(a)</text>
<text transform="translate(470.88 94.5) scale(1.0198 1.0000)" font-size="51" fill="#000"><tspan font-style="italic">w</tspan>=30 wt%</text>
<use href="#k" x="783" y="74.1"/><use href="#h" x="783" y="74.1"/>
<use href="#r" x="981.3" y="74.1"/><use href="#h" x="981.3" y="74.1"/>
<use href="#b" x="783" y="147.5"/><use href="#h" x="783" y="147.5"/>
<use href="#t" x="983.1" y="147.5"/><use href="#h" x="983.1" y="147.5"/>
<use href="#m" x="783" y="221.3"/><use href="#h" x="783" y="221.3"/>
<text transform="translate(839.6 86) scale(0.9500 1.0000)" font-size="51" fill="#000">1 s<tspan font-size="31" dy="-28">-1</tspan></text>
<text transform="translate(1033.01 86) scale(0.9721 1.0000)" font-size="51" fill="#000">10 s<tspan font-size="31" dy="-28">-1</tspan></text>
<text transform="translate(832.21 159.4) scale(0.9962 1.0000)" font-size="51" fill="#000">50 s<tspan font-size="31" dy="-28">-1</tspan></text>
<text transform="translate(1034.06 159.4) scale(0.9845 1.0000)" font-size="51" fill="#000">100 s<tspan font-size="31" dy="-28">-1</tspan></text>
<text transform="translate(833.01 233.5) scale(0.9924 1.0000)" font-size="51" fill="#000">400 s<tspan font-size="31" dy="-28">-1</tspan></text>
</g>
<g id="panel-b">
<rect x="1406" y="36" width="976" height="720.5" fill="none" stroke="#000" stroke-width="5.1"/>
<path d="M1894 756.5v-12.2M1542.03 756.5v-7.6M1624.21 756.5v-7.6M1683.28 756.5v-7.6M1729.43 756.5v-7.6M1767.3 756.5v-7.6M1799.42 756.5v-7.6M1827.3 756.5v-7.6M1851.94 756.5v-7.6M1874.01 756.5v-7.6M2030.03 756.5v-7.6M2112.21 756.5v-7.6M2171.28 756.5v-7.6M2217.43 756.5v-7.6M2255.3 756.5v-7.6M2287.42 756.5v-7.6M2315.3 756.5v-7.6M2339.94 756.5v-7.6M2362.01 756.5v-7.6" stroke="#000" stroke-width="4.2" fill="none"/>
<path d="M1406 489.55h12.2M1406 222.59h12.2M1406 676.14h7.6M1406 629.13h7.6M1406 595.78h7.6M1406 569.91h7.6M1406 548.77h7.6M1406 530.9h7.6M1406 515.42h7.6M1406 501.76h7.6M1406 409.19h7.6M1406 362.18h7.6M1406 328.82h7.6M1406 302.95h7.6M1406 281.82h7.6M1406 263.94h7.6M1406 248.46h7.6M1406 234.81h7.6M1406 142.23h7.6M1406 95.22h7.6M1406 61.87h7.6" stroke="#000" stroke-width="4.2" fill="none"/>
<text transform="translate(1319.56 225) scale(0.9847 1.0000)" font-size="52" fill="#000">100</text>
<text transform="translate(1345.49 492.5) scale(0.9783 1.0000)" font-size="52" fill="#000">10</text>
<text transform="translate(1373.07 772) scale(0.6579 1.0000)" font-size="52" fill="#000">1</text>
<text transform="translate(1393 807) scale(1.0000 1.0000)" font-size="52" fill="#000">1</text>
<text transform="translate(1867.5 807) scale(1.0000 1.0000)" font-size="52" fill="#000">10</text>
<text transform="translate(2342.22 807) scale(1.0069 1.0000)" font-size="52" fill="#000">100</text>
<text transform="translate(1720.88 854.3) scale(0.9744 1.0000)" font-size="52.5" fill="#000">Shear rate, <tspan font-style="italic">γ</tspan> (s<tspan font-size="31" dy="-28">-1</tspan><tspan dy="28">)</tspan></text>
<text transform="translate(1308.9 632.2) rotate(-90) scale(1.0517 1.0000)" font-size="50" fill="#000">hViscosity, <tspan font-style="italic">η</tspan> (Pa.s)</text>
<g clip-path="url(#cpb)">
<use href="#k" x="1481.59" y="300.93"/><use href="#k" x="1628.49" y="332.23"/><use href="#k" x="1714.43" y="348.02"/><use href="#k" x="1775.4" y="359.18"/><use href="#k" x="1822.69" y="367.62"/><use href="#k" x="1861.33" y="375.25"/><use href="#k" x="1894" y="381.78"/><use href="#k" x="1922.3" y="387.77"/><use href="#k" x="1947.26" y="392.67"/><use href="#k" x="1969.59" y="397.02"/><use href="#k" x="1989.79" y="400.83"/><use href="#k" x="2008.23" y="406.06"/><use href="#k" x="2025.2" y="409.66"/><use href="#k" x="2040.9" y="413.02"/><use href="#k" x="2055.52" y="416.03"/><use href="#k" x="2069.2" y="418.68"/><use href="#k" x="2082.05" y="421.49"/><use href="#k" x="2094.17" y="424.23"/><use href="#k" x="2105.62" y="426.76"/><use href="#k" x="2116.49" y="428.9"/><use href="#k" x="2126.84" y="429.58"/><use href="#k" x="2136.69" y="430.26"/><use href="#k" x="2146.12" y="431.58"/><use href="#k" x="2155.14" y="433.41"/><use href="#k" x="2163.79" y="435.54"/><use href="#k" x="2172.1" y="437.79"/><use href="#k" x="2180.1" y="440.03"/><use href="#k" x="2187.81" y="442.15"/><use href="#k" x="2195.24" y="444.08"/><use href="#k" x="2202.43" y="445.75"/><use href="#k" x="2209.38" y="447.3"/><use href="#k" x="2216.11" y="448.79"/><use href="#k" x="2222.63" y="450.22"/><use href="#k" x="2228.95" y="451.6"/><use href="#k" x="2235.1" y="452.93"/><use href="#k" x="2241.07" y="454.22"/><use href="#k" x="2246.87" y="455.46"/><use href="#k" x="2252.53" y="456.67"/><use href="#k" x="2258.03" y="457.84"/><use href="#k" x="2263.4" y="458.99"/><use href="#k" x="2268.63" y="460.1"/><use href="#k" x="2273.74" y="461.19"/><use href="#k" x="2278.72" y="462.25"/><use href="#k" x="2283.6" y="463.28"/><use href="#k" x="2288.36" y="464.3"/><use href="#k" x="2293.02" y="465.3"/><use href="#k" x="2297.58" y="466.27"/><use href="#k" x="2302.04" y="467.22"/><use href="#k" x="2306.41" y="468.15"/><use href="#k" x="2310.69" y="469.06"/><use href="#k" x="2314.89" y="469.96"/><use href="#k" x="2319" y="470.83"/><use href="#k" x="2323.04" y="471.69"/><use href="#k" x="2327" y="472.53"/><use href="#k" x="2330.89" y="473.35"/><use href="#k" x="2334.71" y="474.16"/><use href="#k" x="2338.46" y="474.95"/><use href="#k" x="2342.15" y="475.73"/><use href="#k" x="2345.77" y="476.49"/><use href="#k" x="2349.33" y="477.25"/><use href="#k" x="2352.83" y="477.98"/><use href="#k" x="2356.28" y="478.71"/><use href="#k" x="2359.67" y="479.42"/><use href="#k" x="2363.01" y="480.12"/><use href="#k" x="2366.29" y="480.81"/><use href="#k" x="2369.53" y="481.49"/><use href="#k" x="2372.72" y="482.16"/><use href="#k" x="2375.86" y="482.82"/><use href="#k" x="2378.95" y="483.47"/><use href="#k" x="2382" y="484.1"/><use href="#h" x="1481.59" y="300.93"/><use href="#h" x="1628.49" y="332.23"/><use href="#h" x="1714.43" y="348.02"/><use href="#h" x="1775.4" y="359.18"/><use href="#h" x="1822.69" y="367.62"/><use href="#h" x="1861.33" y="375.25"/><use href="#h" x="1894" y="381.78"/><use href="#h" x="1922.3" y="387.77"/><use href="#h" x="1947.26" y="392.67"/><use href="#h" x="1969.59" y="397.02"/><use href="#h" x="1989.79" y="400.83"/><use href="#h" x="2008.23" y="406.06"/><use href="#h" x="2025.2" y="409.66"/><use href="#h" x="2040.9" y="413.02"/><use href="#h" x="2055.52" y="416.03"/><use href="#h" x="2069.2" y="418.68"/><use href="#h" x="2082.05" y="421.49"/><use href="#h" x="2094.17" y="424.23"/><use href="#h" x="2105.62" y="426.76"/><use href="#h" x="2116.49" y="428.9"/><use href="#h" x="2126.84" y="429.58"/><use href="#h" x="2136.69" y="430.26"/><use href="#h" x="2146.12" y="431.58"/><use href="#h" x="2155.14" y="433.41"/><use href="#h" x="2163.79" y="435.54"/><use href="#h" x="2172.1" y="437.79"/><use href="#h" x="2180.1" y="440.03"/><use href="#h" x="2187.81" y="442.15" opacity="0.93"/><use href="#h" x="2195.24" y="444.08" opacity="0.86"/><use href="#h" x="2202.43" y="445.75" opacity="0.8"/><use href="#h" x="2209.38" y="447.3" opacity="0.75"/><use href="#h" x="2216.11" y="448.79" opacity="0.71"/><use href="#h" x="2222.63" y="450.22" opacity="0.66"/><use href="#h" x="2228.95" y="451.6" opacity="0.62"/><use href="#h" x="2235.1" y="452.93" opacity="0.59"/><use href="#h" x="2241.07" y="454.22" opacity="0.55"/><use href="#h" x="2246.87" y="455.46" opacity="0.52"/><use href="#h" x="2252.53" y="456.67" opacity="0.49"/><use href="#h" x="2258.03" y="457.84" opacity="0.47"/><use href="#h" x="2263.4" y="458.99" opacity="0.44"/><use href="#h" x="2268.63" y="460.1" opacity="0.42"/><use href="#h" x="2273.74" y="461.19" opacity="0.4"/><use href="#h" x="2278.72" y="462.25" opacity="0.38"/><use href="#h" x="2283.6" y="463.28" opacity="0.36"/><use href="#h" x="2288.36" y="464.3" opacity="0.34"/><use href="#h" x="2293.02" y="465.3" opacity="0.32"/><use href="#h" x="2297.58" y="466.27" opacity="0.3"/><use href="#h" x="2302.04" y="467.22" opacity="0.29"/><use href="#h" x="2306.41" y="468.15" opacity="0.27"/><use href="#h" x="2310.69" y="469.06" opacity="0.26"/><use href="#h" x="2314.89" y="469.96" opacity="0.25"/><use href="#h" x="2319" y="470.83" opacity="0.23"/><use href="#h" x="2323.04" y="471.69" opacity="0.22"/><use href="#h" x="2327" y="472.53" opacity="0.21"/><use href="#h" x="2330.89" y="473.35" opacity="0.2"/><use href="#h" x="2334.71" y="474.16" opacity="0.19"/><use href="#h" x="2338.46" y="474.95" opacity="0.18"/><use href="#h" x="2342.15" y="475.73" opacity="0.17"/><use href="#h" x="2345.77" y="476.49" opacity="0.16"/><use href="#h" x="2349.33" y="477.25" opacity="0.15"/><use href="#h" x="2352.83" y="477.98" opacity="0.15"/><use href="#h" x="2356.28" y="478.71" opacity="0.14"/><use href="#h" x="2359.67" y="479.42" opacity="0.13"/><use href="#h" x="2363.01" y="480.12" opacity="0.12"/><use href="#h" x="2366.29" y="480.81" opacity="0.12"/><use href="#h" x="2369.53" y="481.49" opacity="0.12"/><use href="#h" x="2372.72" y="482.16" opacity="0.12"/><use href="#h" x="2375.86" y="482.82" opacity="0.12"/><use href="#h" x="2378.95" y="483.47" opacity="0.12"/><use href="#h" x="2382" y="484.1"/>
<use href="#r" x="1481.59" y="187.13"/><use href="#r" x="1628.49" y="248.66"/><use href="#r" x="1714.43" y="281.87"/><use href="#r" x="1775.4" y="303.1"/><use href="#r" x="1822.69" y="318.62"/><use href="#r" x="1861.33" y="331.69"/><use href="#r" x="1894" y="342.3"/><use href="#r" x="1922.3" y="351.83"/><use href="#r" x="1947.26" y="359.46"/><use href="#r" x="1969.59" y="366.26"/><use href="#r" x="1989.79" y="372.25"/><use href="#r" x="2008.23" y="380.35"/><use href="#r" x="2025.2" y="385.34"/><use href="#r" x="2040.9" y="390.39"/><use href="#r" x="2055.52" y="394.32"/><use href="#r" x="2069.2" y="398.07"/><use href="#r" x="2082.05" y="401.56"/><use href="#r" x="2094.17" y="404.53"/><use href="#r" x="2105.62" y="407.51"/><use href="#r" x="2116.49" y="410.3"/><use href="#r" x="2126.84" y="413.05"/><use href="#r" x="2136.69" y="415.65"/><use href="#r" x="2146.12" y="418.3"/><use href="#r" x="2155.14" y="420.91"/><use href="#r" x="2163.79" y="423.47"/><use href="#r" x="2172.1" y="425.94"/><use href="#r" x="2180.1" y="428.29"/><use href="#r" x="2187.81" y="430.52"/><use href="#r" x="2195.24" y="432.61"/><use href="#r" x="2202.43" y="434.55"/><use href="#r" x="2209.38" y="436.39"/><use href="#r" x="2216.11" y="438.15"/><use href="#r" x="2222.63" y="439.83"/><use href="#r" x="2228.95" y="441.45"/><use href="#r" x="2235.1" y="443"/><use href="#r" x="2241.07" y="444.49"/><use href="#r" x="2246.87" y="445.93"/><use href="#r" x="2252.53" y="447.32"/><use href="#r" x="2258.03" y="448.67"/><use href="#r" x="2263.4" y="449.97"/><use href="#r" x="2268.63" y="451.23"/><use href="#r" x="2273.74" y="452.46"/><use href="#r" x="2278.72" y="453.65"/><use href="#r" x="2283.6" y="454.81"/><use href="#r" x="2288.36" y="455.95"/><use href="#r" x="2293.02" y="457.05"/><use href="#r" x="2297.58" y="458.12"/><use href="#r" x="2302.04" y="459.17"/><use href="#r" x="2306.41" y="460.19"/><use href="#r" x="2310.69" y="461.19"/><use href="#r" x="2314.89" y="462.16"/><use href="#r" x="2319" y="463.11"/><use href="#r" x="2323.04" y="464.04"/><use href="#r" x="2327" y="464.94"/><use href="#r" x="2330.89" y="465.83"/><use href="#r" x="2334.71" y="466.69"/><use href="#r" x="2338.46" y="467.54"/><use href="#r" x="2342.15" y="468.37"/><use href="#r" x="2345.77" y="469.18"/><use href="#r" x="2349.33" y="469.98"/><use href="#r" x="2352.83" y="470.75"/><use href="#r" x="2356.28" y="471.52"/><use href="#r" x="2359.67" y="472.26"/><use href="#r" x="2363.01" y="473"/><use href="#r" x="2366.29" y="473.71"/><use href="#r" x="2369.53" y="474.42"/><use href="#r" x="2372.72" y="475.11"/><use href="#r" x="2375.86" y="475.79"/><use href="#r" x="2378.95" y="476.45"/><use href="#r" x="2382" y="477.11"/><use href="#h" x="1481.59" y="187.13"/><use href="#h" x="1628.49" y="248.66"/><use href="#h" x="1714.43" y="281.87"/><use href="#h" x="1775.4" y="303.1"/><use href="#h" x="1822.69" y="318.62"/><use href="#h" x="1861.33" y="331.69"/><use href="#h" x="1894" y="342.3"/><use href="#h" x="1922.3" y="351.83"/><use href="#h" x="1947.26" y="359.46"/><use href="#h" x="1969.59" y="366.26"/><use href="#h" x="1989.79" y="372.25"/><use href="#h" x="2008.23" y="380.35"/><use href="#h" x="2025.2" y="385.34"/><use href="#h" x="2040.9" y="390.39"/><use href="#h" x="2055.52" y="394.32"/><use href="#h" x="2069.2" y="398.07"/><use href="#h" x="2082.05" y="401.56"/><use href="#h" x="2094.17" y="404.53"/><use href="#h" x="2105.62" y="407.51"/><use href="#h" x="2116.49" y="410.3"/><use href="#h" x="2126.84" y="413.05"/><use href="#h" x="2136.69" y="415.65"/><use href="#h" x="2146.12" y="418.3"/><use href="#h" x="2155.14" y="420.91"/><use href="#h" x="2163.79" y="423.47"/><use href="#h" x="2172.1" y="425.94"/><use href="#h" x="2180.1" y="428.29"/><use href="#h" x="2187.81" y="430.52" opacity="0.94"/><use href="#h" x="2195.24" y="432.61" opacity="0.87"/><use href="#h" x="2202.43" y="434.55" opacity="0.82"/><use href="#h" x="2209.38" y="436.39" opacity="0.76"/><use href="#h" x="2216.11" y="438.15" opacity="0.72"/><use href="#h" x="2222.63" y="439.83" opacity="0.67"/><use href="#h" x="2228.95" y="441.45" opacity="0.63"/><use href="#h" x="2235.1" y="443" opacity="0.6"/><use href="#h" x="2241.07" y="444.49" opacity="0.56"/><use href="#h" x="2246.87" y="445.93" opacity="0.53"/><use href="#h" x="2252.53" y="447.32" opacity="0.5"/><use href="#h" x="2258.03" y="448.67" opacity="0.47"/><use href="#h" x="2263.4" y="449.97" opacity="0.45"/><use href="#h" x="2268.63" y="451.23" opacity="0.42"/><use href="#h" x="2273.74" y="452.46" opacity="0.4"/><use href="#h" x="2278.72" y="453.65" opacity="0.38"/><use href="#h" x="2283.6" y="454.81" opacity="0.36"/><use href="#h" x="2288.36" y="455.95" opacity="0.34"/><use href="#h" x="2293.02" y="457.05" opacity="0.32"/><use href="#h" x="2297.58" y="458.12" opacity="0.31"/><use href="#h" x="2302.04" y="459.17" opacity="0.29"/><use href="#h" x="2306.41" y="460.19" opacity="0.28"/><use href="#h" x="2310.69" y="461.19" opacity="0.26"/><use href="#h" x="2314.89" y="462.16" opacity="0.25"/><use href="#h" x="2319" y="463.11" opacity="0.24"/><use href="#h" x="2323.04" y="464.04" opacity="0.22"/><use href="#h" x="2327" y="464.94" opacity="0.21"/><use href="#h" x="2330.89" y="465.83" opacity="0.2"/><use href="#h" x="2334.71" y="466.69" opacity="0.19"/><use href="#h" x="2338.46" y="467.54" opacity="0.18"/><use href="#h" x="2342.15" y="468.37" opacity="0.17"/><use href="#h" x="2345.77" y="469.18" opacity="0.16"/><use href="#h" x="2349.33" y="469.98" opacity="0.16"/><use href="#h" x="2352.83" y="470.75" opacity="0.15"/><use href="#h" x="2356.28" y="471.52" opacity="0.14"/><use href="#h" x="2359.67" y="472.26" opacity="0.13"/><use href="#h" x="2363.01" y="473" opacity="0.13"/><use href="#h" x="2366.29" y="473.71" opacity="0.12"/><use href="#h" x="2369.53" y="474.42" opacity="0.12"/><use href="#h" x="2372.72" y="475.11" opacity="0.12"/><use href="#h" x="2375.86" y="475.79" opacity="0.12"/><use href="#h" x="2378.95" y="476.45" opacity="0.12"/><use href="#h" x="2382" y="477.11"/>
<use href="#b" x="1481.59" y="158"/><use href="#b" x="1628.49" y="217.35"/><use href="#b" x="1714.43" y="249.75"/><use href="#b" x="1775.4" y="271.8"/><use href="#b" x="1822.69" y="288.68"/><use href="#b" x="1861.33" y="301.74"/><use href="#b" x="1894" y="313.18"/><use href="#b" x="1922.3" y="322.7"/><use href="#b" x="1947.26" y="331.42"/><use href="#b" x="1969.59" y="339.04"/><use href="#b" x="1989.79" y="345.84"/><use href="#b" x="2008.23" y="353.77"/><use href="#b" x="2025.2" y="360.84"/><use href="#b" x="2040.9" y="366.6"/><use href="#b" x="2055.52" y="372.15"/><use href="#b" x="2069.2" y="376.98"/><use href="#b" x="2082.05" y="381.58"/><use href="#b" x="2094.17" y="385.94"/><use href="#b" x="2105.62" y="389.77"/><use href="#b" x="2116.49" y="393.75"/><use href="#b" x="2126.84" y="397.16"/><use href="#b" x="2136.69" y="400.37"/><use href="#b" x="2146.12" y="403.15"/><use href="#b" x="2155.14" y="406.2"/><use href="#b" x="2163.79" y="408.57"/><use href="#b" x="2172.1" y="411.27"/><use href="#b" x="2180.1" y="413.43"/><use href="#b" x="2187.81" y="415.41"/><use href="#b" x="2195.24" y="417.87"/><use href="#b" x="2202.43" y="420.16"/><use href="#b" x="2209.38" y="422.29"/><use href="#b" x="2216.11" y="424.32"/><use href="#b" x="2222.63" y="426.25"/><use href="#b" x="2228.95" y="428.1"/><use href="#b" x="2235.1" y="429.88"/><use href="#b" x="2241.07" y="431.59"/><use href="#b" x="2246.87" y="433.23"/><use href="#b" x="2252.53" y="434.82"/><use href="#b" x="2258.03" y="436.35"/><use href="#b" x="2263.4" y="437.84"/><use href="#b" x="2268.63" y="439.29"/><use href="#b" x="2273.74" y="440.7"/><use href="#b" x="2278.72" y="442.07"/><use href="#b" x="2283.6" y="443.41"/><use href="#b" x="2288.36" y="444.72"/><use href="#b" x="2293.02" y="446"/><use href="#b" x="2297.58" y="447.25"/><use href="#b" x="2302.04" y="448.46"/><use href="#b" x="2306.41" y="449.65"/><use href="#b" x="2310.69" y="450.81"/><use href="#b" x="2314.89" y="451.95"/><use href="#b" x="2319" y="453.06"/><use href="#b" x="2323.04" y="454.14"/><use href="#b" x="2327" y="455.2"/><use href="#b" x="2330.89" y="456.24"/><use href="#b" x="2334.71" y="457.25"/><use href="#b" x="2338.46" y="458.24"/><use href="#b" x="2342.15" y="459.22"/><use href="#b" x="2345.77" y="460.17"/><use href="#b" x="2349.33" y="461.1"/><use href="#b" x="2352.83" y="462.02"/><use href="#b" x="2356.28" y="462.92"/><use href="#b" x="2359.67" y="463.8"/><use href="#b" x="2363.01" y="464.66"/><use href="#b" x="2366.29" y="465.51"/><use href="#b" x="2369.53" y="466.34"/><use href="#b" x="2372.72" y="467.16"/><use href="#b" x="2375.86" y="467.96"/><use href="#b" x="2378.95" y="468.75"/><use href="#b" x="2382" y="469.53"/><use href="#h" x="1481.59" y="158"/><use href="#h" x="1628.49" y="217.35"/><use href="#h" x="1714.43" y="249.75"/><use href="#h" x="1775.4" y="271.8"/><use href="#h" x="1822.69" y="288.68"/><use href="#h" x="1861.33" y="301.74"/><use href="#h" x="1894" y="313.18"/><use href="#h" x="1922.3" y="322.7"/><use href="#h" x="1947.26" y="331.42"/><use href="#h" x="1969.59" y="339.04"/><use href="#h" x="1989.79" y="345.84"/><use href="#h" x="2008.23" y="353.77"/><use href="#h" x="2025.2" y="360.84"/><use href="#h" x="2040.9" y="366.6"/><use href="#h" x="2055.52" y="372.15"/><use href="#h" x="2069.2" y="376.98"/><use href="#h" x="2082.05" y="381.58"/><use href="#h" x="2094.17" y="385.94"/><use href="#h" x="2105.62" y="389.77"/><use href="#h" x="2116.49" y="393.75"/><use href="#h" x="2126.84" y="397.16"/><use href="#h" x="2136.69" y="400.37"/><use href="#h" x="2146.12" y="403.15"/><use href="#h" x="2155.14" y="406.2"/><use href="#h" x="2163.79" y="408.57"/><use href="#h" x="2172.1" y="411.27"/><use href="#h" x="2180.1" y="413.43" opacity="0.99"/><use href="#h" x="2187.81" y="415.41" opacity="0.96"/><use href="#h" x="2195.24" y="417.87" opacity="0.89"/><use href="#h" x="2202.43" y="420.16" opacity="0.83"/><use href="#h" x="2209.38" y="422.29" opacity="0.78"/><use href="#h" x="2216.11" y="424.32" opacity="0.73"/><use href="#h" x="2222.63" y="426.25" opacity="0.69"/><use href="#h" x="2228.95" y="428.1" opacity="0.65"/><use href="#h" x="2235.1" y="429.88" opacity="0.61"/><use href="#h" x="2241.07" y="431.59" opacity="0.57"/><use href="#h" x="2246.87" y="433.23" opacity="0.54"/><use href="#h" x="2252.53" y="434.82" opacity="0.51"/><use href="#h" x="2258.03" y="436.35" opacity="0.48"/><use href="#h" x="2263.4" y="437.84" opacity="0.46"/><use href="#h" x="2268.63" y="439.29" opacity="0.43"/><use href="#h" x="2273.74" y="440.7" opacity="0.41"/><use href="#h" x="2278.72" y="442.07" opacity="0.39"/><use href="#h" x="2283.6" y="443.41" opacity="0.37"/><use href="#h" x="2288.36" y="444.72" opacity="0.35"/><use href="#h" x="2293.02" y="446" opacity="0.33"/><use href="#h" x="2297.58" y="447.25" opacity="0.31"/><use href="#h" x="2302.04" y="448.46" opacity="0.3"/><use href="#h" x="2306.41" y="449.65" opacity="0.28"/><use href="#h" x="2310.69" y="450.81" opacity="0.27"/><use href="#h" x="2314.89" y="451.95" opacity="0.26"/><use href="#h" x="2319" y="453.06" opacity="0.24"/><use href="#h" x="2323.04" y="454.14" opacity="0.23"/><use href="#h" x="2327" y="455.2" opacity="0.22"/><use href="#h" x="2330.89" y="456.24" opacity="0.21"/><use href="#h" x="2334.71" y="457.25" opacity="0.2"/><use href="#h" x="2338.46" y="458.24" opacity="0.19"/><use href="#h" x="2342.15" y="459.22" opacity="0.18"/><use href="#h" x="2345.77" y="460.17" opacity="0.17"/><use href="#h" x="2349.33" y="461.1" opacity="0.16"/><use href="#h" x="2352.83" y="462.02" opacity="0.15"/><use href="#h" x="2356.28" y="462.92" opacity="0.14"/><use href="#h" x="2359.67" y="463.8" opacity="0.14"/><use href="#h" x="2363.01" y="464.66" opacity="0.13"/><use href="#h" x="2366.29" y="465.51" opacity="0.12"/><use href="#h" x="2369.53" y="466.34" opacity="0.12"/><use href="#h" x="2372.72" y="467.16" opacity="0.12"/><use href="#h" x="2375.86" y="467.96" opacity="0.12"/><use href="#h" x="2378.95" y="468.75" opacity="0.12"/><use href="#h" x="2382" y="469.53"/>
<use href="#t" x="1481.59" y="134.74"/><use href="#t" x="1628.49" y="198.59"/><use href="#t" x="1714.43" y="228.78"/><use href="#t" x="1775.4" y="250.55"/><use href="#t" x="1822.69" y="268.71"/><use href="#t" x="1861.33" y="283.11"/><use href="#t" x="1894" y="295.63"/><use href="#t" x="1922.3" y="305.25"/><use href="#t" x="1947.26" y="313.73"/><use href="#t" x="1969.59" y="321.7"/><use href="#t" x="1989.79" y="329.02"/><use href="#t" x="2008.23" y="336.71"/><use href="#t" x="2025.2" y="343.76"/><use href="#t" x="2040.9" y="349.6"/><use href="#t" x="2055.52" y="355.28"/><use href="#t" x="2069.2" y="360.27"/><use href="#t" x="2082.05" y="365.06"/><use href="#t" x="2094.17" y="369.61"/><use href="#t" x="2105.62" y="373.72"/><use href="#t" x="2116.49" y="378.05"/><use href="#t" x="2126.84" y="381.85"/><use href="#t" x="2136.69" y="385.49"/><use href="#t" x="2146.12" y="388.7"/><use href="#t" x="2155.14" y="392.19"/><use href="#t" x="2163.79" y="394.99"/><use href="#t" x="2172.1" y="398.11"/><use href="#t" x="2180.1" y="400.67"/><use href="#t" x="2187.81" y="403.04"/><use href="#t" x="2195.24" y="405.85"/><use href="#t" x="2202.43" y="408.47"/><use href="#t" x="2209.38" y="410.93"/><use href="#t" x="2216.11" y="413.28"/><use href="#t" x="2222.63" y="415.53"/><use href="#t" x="2228.95" y="417.7"/><use href="#t" x="2235.1" y="419.78"/><use href="#t" x="2241.07" y="421.79"/><use href="#t" x="2246.87" y="423.73"/><use href="#t" x="2252.53" y="425.6"/><use href="#t" x="2258.03" y="427.41"/><use href="#t" x="2263.4" y="429.16"/><use href="#t" x="2268.63" y="430.86"/><use href="#t" x="2273.74" y="432.51"/><use href="#t" x="2278.72" y="434.12"/><use href="#t" x="2283.6" y="435.68"/><use href="#t" x="2288.36" y="437.2"/><use href="#t" x="2293.02" y="438.68"/><use href="#t" x="2297.58" y="440.12"/><use href="#t" x="2302.04" y="441.53"/><use href="#t" x="2306.41" y="442.9"/><use href="#t" x="2310.69" y="444.24"/><use href="#t" x="2314.89" y="445.55"/><use href="#t" x="2319" y="446.82"/><use href="#t" x="2323.04" y="448.07"/><use href="#t" x="2327" y="449.28"/><use href="#t" x="2330.89" y="450.47"/><use href="#t" x="2334.71" y="451.63"/><use href="#t" x="2338.46" y="452.77"/><use href="#t" x="2342.15" y="453.89"/><use href="#t" x="2345.77" y="454.98"/><use href="#t" x="2349.33" y="456.04"/><use href="#t" x="2352.83" y="457.09"/><use href="#t" x="2356.28" y="458.12"/><use href="#t" x="2359.67" y="459.12"/><use href="#t" x="2363.01" y="460.11"/><use href="#t" x="2366.29" y="461.07"/><use href="#t" x="2369.53" y="462.02"/><use href="#t" x="2372.72" y="462.95"/><use href="#t" x="2375.86" y="463.87"/><use href="#t" x="2378.95" y="464.76"/><use href="#t" x="2382" y="465.64"/><use href="#h" x="1481.59" y="134.74"/><use href="#h" x="1628.49" y="198.59"/><use href="#h" x="1714.43" y="228.78"/><use href="#h" x="1775.4" y="250.55"/><use href="#h" x="1822.69" y="268.71"/><use href="#h" x="1861.33" y="283.11"/><use href="#h" x="1894" y="295.63"/><use href="#h" x="1922.3" y="305.25"/><use href="#h" x="1947.26" y="313.73"/><use href="#h" x="1969.59" y="321.7"/><use href="#h" x="1989.79" y="329.02"/><use href="#h" x="2008.23" y="336.71"/><use href="#h" x="2025.2" y="343.76"/><use href="#h" x="2040.9" y="349.6"/><use href="#h" x="2055.52" y="355.28"/><use href="#h" x="2069.2" y="360.27"/><use href="#h" x="2082.05" y="365.06"/><use href="#h" x="2094.17" y="369.61"/><use href="#h" x="2105.62" y="373.72"/><use href="#h" x="2116.49" y="378.05"/><use href="#h" x="2126.84" y="381.85"/><use href="#h" x="2136.69" y="385.49"/><use href="#h" x="2146.12" y="388.7"/><use href="#h" x="2155.14" y="392.19"/><use href="#h" x="2163.79" y="394.99"/><use href="#h" x="2172.1" y="398.11"/><use href="#h" x="2180.1" y="400.67"/><use href="#h" x="2187.81" y="403.04" opacity="0.99"/><use href="#h" x="2195.24" y="405.85" opacity="0.92"/><use href="#h" x="2202.43" y="408.47" opacity="0.86"/><use href="#h" x="2209.38" y="410.93" opacity="0.8"/><use href="#h" x="2216.11" y="413.28" opacity="0.75"/><use href="#h" x="2222.63" y="415.53" opacity="0.71"/><use href="#h" x="2228.95" y="417.7" opacity="0.67"/><use href="#h" x="2235.1" y="419.78" opacity="0.63"/><use href="#h" x="2241.07" y="421.79" opacity="0.59"/><use href="#h" x="2246.87" y="423.73" opacity="0.56"/><use href="#h" x="2252.53" y="425.6" opacity="0.53"/><use href="#h" x="2258.03" y="427.41" opacity="0.5"/><use href="#h" x="2263.4" y="429.16" opacity="0.47"/><use href="#h" x="2268.63" y="430.86" opacity="0.45"/><use href="#h" x="2273.74" y="432.51" opacity="0.42"/><use href="#h" x="2278.72" y="434.12" opacity="0.4"/><use href="#h" x="2283.6" y="435.68" opacity="0.38"/><use href="#h" x="2288.36" y="437.2" opacity="0.36"/><use href="#h" x="2293.02" y="438.68" opacity="0.34"/><use href="#h" x="2297.58" y="440.12" opacity="0.32"/><use href="#h" x="2302.04" y="441.53" opacity="0.31"/><use href="#h" x="2306.41" y="442.9" opacity="0.29"/><use href="#h" x="2310.69" y="444.24" opacity="0.28"/><use href="#h" x="2314.89" y="445.55" opacity="0.26"/><use href="#h" x="2319" y="446.82" opacity="0.25"/><use href="#h" x="2323.04" y="448.07" opacity="0.24"/><use href="#h" x="2327" y="449.28" opacity="0.22"/><use href="#h" x="2330.89" y="450.47" opacity="0.21"/><use href="#h" x="2334.71" y="451.63" opacity="0.2"/><use href="#h" x="2338.46" y="452.77" opacity="0.19"/><use href="#h" x="2342.15" y="453.89" opacity="0.18"/><use href="#h" x="2345.77" y="454.98" opacity="0.17"/><use href="#h" x="2349.33" y="456.04" opacity="0.16"/><use href="#h" x="2352.83" y="457.09" opacity="0.16"/><use href="#h" x="2356.28" y="458.12" opacity="0.15"/><use href="#h" x="2359.67" y="459.12" opacity="0.14"/><use href="#h" x="2363.01" y="460.11" opacity="0.13"/><use href="#h" x="2366.29" y="461.07" opacity="0.13"/><use href="#h" x="2369.53" y="462.02" opacity="0.12"/><use href="#h" x="2372.72" y="462.95" opacity="0.12"/><use href="#h" x="2375.86" y="463.87" opacity="0.12"/><use href="#h" x="2378.95" y="464.76" opacity="0.12"/><use href="#h" x="2382" y="465.64"/>
<use href="#m" x="1481.59" y="120.44"/><use href="#m" x="1628.49" y="181.69"/><use href="#m" x="1714.43" y="217.08"/><use href="#m" x="1775.4" y="241.85"/><use href="#m" x="1822.69" y="260.91"/><use href="#m" x="1861.33" y="275.61"/><use href="#m" x="1894" y="288.13"/><use href="#m" x="1922.3" y="298.75"/><use href="#m" x="1947.26" y="307.73"/><use href="#m" x="1969.59" y="315.9"/><use href="#m" x="1989.79" y="323.52"/><use href="#m" x="2008.23" y="331.44"/><use href="#m" x="2025.2" y="338.69"/><use href="#m" x="2040.9" y="344.69"/><use href="#m" x="2055.52" y="350.51"/><use href="#m" x="2069.2" y="355.62"/><use href="#m" x="2082.05" y="360.5"/><use href="#m" x="2094.17" y="365.14"/><use href="#m" x="2105.62" y="369.3"/><use href="#m" x="2116.49" y="373.69"/><use href="#m" x="2126.84" y="377.53"/><use href="#m" x="2136.69" y="381.2"/><use href="#m" x="2146.12" y="384.45"/><use href="#m" x="2155.14" y="387.97"/><use href="#m" x="2163.79" y="390.8"/><use href="#m" x="2172.1" y="393.96"/><use href="#m" x="2180.1" y="396.56"/><use href="#m" x="2187.81" y="398.96"/><use href="#m" x="2195.24" y="401.82"/><use href="#m" x="2202.43" y="404.48"/><use href="#m" x="2209.38" y="406.99"/><use href="#m" x="2216.11" y="409.4"/><use href="#m" x="2222.63" y="411.71"/><use href="#m" x="2228.95" y="413.93"/><use href="#m" x="2235.1" y="416.07"/><use href="#m" x="2241.07" y="418.14"/><use href="#m" x="2246.87" y="420.14"/><use href="#m" x="2252.53" y="422.07"/><use href="#m" x="2258.03" y="423.94"/><use href="#m" x="2263.4" y="425.76"/><use href="#m" x="2268.63" y="427.52"/><use href="#m" x="2273.74" y="429.24"/><use href="#m" x="2278.72" y="430.91"/><use href="#m" x="2283.6" y="432.54"/><use href="#m" x="2288.36" y="434.12"/><use href="#m" x="2293.02" y="435.67"/><use href="#m" x="2297.58" y="437.18"/><use href="#m" x="2302.04" y="438.65"/><use href="#m" x="2306.41" y="440.09"/><use href="#m" x="2310.69" y="441.49"/><use href="#m" x="2314.89" y="442.86"/><use href="#m" x="2319" y="444.2"/><use href="#m" x="2323.04" y="445.51"/><use href="#m" x="2327" y="446.8"/><use href="#m" x="2330.89" y="448.05"/><use href="#m" x="2334.71" y="449.28"/><use href="#m" x="2338.46" y="450.48"/><use href="#m" x="2342.15" y="451.66"/><use href="#m" x="2345.77" y="452.81"/><use href="#m" x="2349.33" y="453.94"/><use href="#m" x="2352.83" y="455.05"/><use href="#m" x="2356.28" y="456.14"/><use href="#m" x="2359.67" y="457.21"/><use href="#m" x="2363.01" y="458.25"/><use href="#m" x="2366.29" y="459.28"/><use href="#m" x="2369.53" y="460.29"/><use href="#m" x="2372.72" y="461.28"/><use href="#m" x="2375.86" y="462.26"/><use href="#m" x="2378.95" y="463.21"/><use href="#m" x="2382" y="464.15"/><use href="#h" x="1481.59" y="120.44"/><use href="#h" x="1628.49" y="181.69"/><use href="#h" x="1714.43" y="217.08"/><use href="#h" x="1775.4" y="241.85"/><use href="#h" x="1822.69" y="260.91"/><use href="#h" x="1861.33" y="275.61"/><use href="#h" x="1894" y="288.13"/><use href="#h" x="1922.3" y="298.75"/><use href="#h" x="1947.26" y="307.73"/><use href="#h" x="1969.59" y="315.9"/><use href="#h" x="1989.79" y="323.52"/><use href="#h" x="2008.23" y="331.44"/><use href="#h" x="2025.2" y="338.69"/><use href="#h" x="2040.9" y="344.69"/><use href="#h" x="2055.52" y="350.51"/><use href="#h" x="2069.2" y="355.62"/><use href="#h" x="2082.05" y="360.5"/><use href="#h" x="2094.17" y="365.14"/><use href="#h" x="2105.62" y="369.3"/><use href="#h" x="2116.49" y="373.69"/><use href="#h" x="2126.84" y="377.53"/><use href="#h" x="2136.69" y="381.2"/><use href="#h" x="2146.12" y="384.45"/><use href="#h" x="2155.14" y="387.97"/><use href="#h" x="2163.79" y="390.8"/><use href="#h" x="2172.1" y="393.96"/><use href="#h" x="2180.1" y="396.56"/><use href="#h" x="2187.81" y="398.96" opacity="0.99"/><use href="#h" x="2195.24" y="401.82" opacity="0.92"/><use href="#h" x="2202.43" y="404.48" opacity="0.86"/><use href="#h" x="2209.38" y="406.99" opacity="0.81"/><use href="#h" x="2216.11" y="409.4" opacity="0.76"/><use href="#h" x="2222.63" y="411.71" opacity="0.71"/><use href="#h" x="2228.95" y="413.93" opacity="0.67"/><use href="#h" x="2235.1" y="416.07" opacity="0.63"/><use href="#h" x="2241.07" y="418.14" opacity="0.59"/><use href="#h" x="2246.87" y="420.14" opacity="0.56"/><use href="#h" x="2252.53" y="422.07" opacity="0.53"/><use href="#h" x="2258.03" y="423.94" opacity="0.5"/><use href="#h" x="2263.4" y="425.76" opacity="0.47"/><use href="#h" x="2268.63" y="427.52" opacity="0.45"/><use href="#h" x="2273.74" y="429.24" opacity="0.43"/><use href="#h" x="2278.72" y="430.91" opacity="0.4"/><use href="#h" x="2283.6" y="432.54" opacity="0.38"/><use href="#h" x="2288.36" y="434.12" opacity="0.36"/><use href="#h" x="2293.02" y="435.67" opacity="0.34"/><use href="#h" x="2297.58" y="437.18" opacity="0.33"/><use href="#h" x="2302.04" y="438.65" opacity="0.31"/><use href="#h" x="2306.41" y="440.09" opacity="0.29"/><use href="#h" x="2310.69" y="441.49" opacity="0.28"/><use href="#h" x="2314.89" y="442.86" opacity="0.27"/><use href="#h" x="2319" y="444.2" opacity="0.25"/><use href="#h" x="2323.04" y="445.51" opacity="0.24"/><use href="#h" x="2327" y="446.8" opacity="0.23"/><use href="#h" x="2330.89" y="448.05" opacity="0.22"/><use href="#h" x="2334.71" y="449.28" opacity="0.21"/><use href="#h" x="2338.46" y="450.48" opacity="0.2"/><use href="#h" x="2342.15" y="451.66" opacity="0.19"/><use href="#h" x="2345.77" y="452.81" opacity="0.18"/><use href="#h" x="2349.33" y="453.94" opacity="0.17"/><use href="#h" x="2352.83" y="455.05" opacity="0.16"/><use href="#h" x="2356.28" y="456.14" opacity="0.15"/><use href="#h" x="2359.67" y="457.21" opacity="0.14"/><use href="#h" x="2363.01" y="458.25" opacity="0.14"/><use href="#h" x="2366.29" y="459.28" opacity="0.13"/><use href="#h" x="2369.53" y="460.29" opacity="0.12"/><use href="#h" x="2372.72" y="461.28" opacity="0.12"/><use href="#h" x="2375.86" y="462.26" opacity="0.12"/><use href="#h" x="2378.95" y="463.21" opacity="0.12"/><use href="#h" x="2382" y="464.15"/>
</g>
<text transform="translate(1432.69 110.5) scale(1.0022 1.0000)" font-size="82" fill="#000">(b)</text>
<text transform="translate(1870.49 95) scale(1.0074 1.0000)" font-size="51" fill="#000"><tspan font-style="italic">w</tspan>=30 wt%</text>
<use href="#k" x="2175.6" y="82.7"/><use href="#h" x="2175.6" y="82.7"/>
<text transform="translate(2226.66 95) scale(0.8846 1.0000)" font-size="51" fill="#000">10 mT</text>
<use href="#r" x="2175.6" y="137.9"/><use href="#h" x="2175.6" y="137.9"/>
<text transform="translate(2226.65 150.5) scale(0.8865 1.0000)" font-size="51" fill="#000">100 mT</text>
<use href="#b" x="2175.6" y="193.4"/><use href="#h" x="2175.6" y="193.4"/>
<text transform="translate(2225.61 206) scale(0.8930 1.0000)" font-size="51" fill="#000">200 mT</text>
<use href="#t" x="2175.6" y="249.2"/><use href="#h" x="2175.6" y="249.2"/>
<text transform="translate(2226.73 262.1) scale(0.8860 1.0000)" font-size="51" fill="#000">300 mT</text>
<use href="#m" x="2175.6" y="304.7"/><use href="#h" x="2175.6" y="304.7"/>
<text transform="translate(2225.82 317.9) scale(0.8917 1.0000)" font-size="51" fill="#000">500 mT</text>
</g>
<g id="panel-c">
<rect x="197.5" y="957.5" width="978" height="722.5" fill="none" stroke="#000" stroke-width="5.1"/>
<path d="M393.1 1680v-12.2M588.7 1680v-12.2M784.3 1680v-12.2M979.9 1680v-12.2M217.06 1680v-7.6M236.62 1680v-7.6M256.18 1680v-7.6M275.74 1680v-7.6M295.3 1680v-7.6M314.86 1680v-7.6M334.42 1680v-7.6M353.98 1680v-7.6M373.54 1680v-7.6M412.66 1680v-7.6M432.22 1680v-7.6M451.78 1680v-7.6M471.34 1680v-7.6M490.9 1680v-7.6M510.46 1680v-7.6M530.02 1680v-7.6M549.58 1680v-7.6M569.14 1680v-7.6M608.26 1680v-7.6M627.82 1680v-7.6M647.38 1680v-7.6M666.94 1680v-7.6M686.5 1680v-7.6M706.06 1680v-7.6M725.62 1680v-7.6M745.18 1680v-7.6M764.74 1680v-7.6M803.86 1680v-7.6M823.42 1680v-7.6M842.98 1680v-7.6M862.54 1680v-7.6M882.1 1680v-7.6M901.66 1680v-7.6M921.22 1680v-7.6M940.78 1680v-7.6M960.34 1680v-7.6M999.46 1680v-7.6M1019.02 1680v-7.6M1038.58 1680v-7.6M1058.14 1680v-7.6M1077.7 1680v-7.6M1097.26 1680v-7.6M1116.82 1680v-7.6M1136.38 1680v-7.6M1155.94 1680v-7.6" stroke="#000" stroke-width="4.2" fill="none"/>
<path d="M197.5 1614.11h12.2M197.5 1395.24h12.2M197.5 1176.37h12.2M197.5 1670.94h7.6M197.5 1656.53h7.6M197.5 1644.03h7.6M197.5 1632.98h7.6M197.5 1623.08h7.6M197.5 1553.1h7.6M197.5 1516.24h7.6M197.5 1489.75h7.6M197.5 1469.05h7.6M197.5 1452.07h7.6M197.5 1437.66h7.6M197.5 1425.16h7.6M197.5 1414.11h7.6M197.5 1404.21h7.6M197.5 1334.23h7.6M197.5 1297.37h7.6M197.5 1270.88h7.6M197.5 1250.18h7.6M197.5 1233.2h7.6M197.5 1218.79h7.6M197.5 1206.29h7.6M197.5 1195.23h7.6M197.5 1185.34h7.6M197.5 1115.36h7.6M197.5 1078.5h7.6M197.5 1052.01h7.6M197.5 1031.31h7.6M197.5 1014.33h7.6M197.5 999.92h7.6M197.5 987.41h7.6M197.5 976.36h7.6M197.5 966.46h7.6" stroke="#000" stroke-width="4.2" fill="none"/>
<text transform="translate(84.6 972.5) scale(0.9745 1.0000)" font-size="52" fill="#000">1000</text>
<text transform="translate(110.22 1191.37) scale(0.9708 1.0000)" font-size="52" fill="#000">100</text>
<text transform="translate(138.35 1410.24) scale(0.9130 1.0000)" font-size="52" fill="#000">10</text>
<text transform="translate(162.37 1629.11) scale(0.6579 1.0000)" font-size="52" fill="#000">1</text>
<text transform="translate(183.61 1731.2) scale(1.0682 1.0000)" font-size="52" fill="#000">0</text>
<text transform="translate(352.82 1731.2) scale(1.0069 1.0000)" font-size="52" fill="#000">100</text>
<text transform="translate(549.17 1731.2) scale(1.0135 1.0000)" font-size="52" fill="#000">200</text>
<text transform="translate(744.77 1731.2) scale(1.0135 1.0000)" font-size="52" fill="#000">300</text>
<text transform="translate(940.89 1731.2) scale(1.0133 1.0000)" font-size="52" fill="#000">400</text>
<text transform="translate(1134.65 1731.2) scale(1.0342 1.0000)" font-size="52" fill="#000">500</text>
<text transform="translate(436.41 1783) scale(0.9926 1.0000)" font-size="52.5" fill="#000">Magnetic Field, <tspan font-style="italic">H</tspan> (mT)</text>
<text transform="translate(99.5 1544) rotate(-90) scale(1.0503 1.0000)" font-size="50" fill="#000">Viscosity, <tspan font-style="italic">η</tspan> (Pa.s)</text>
<g clip-path="url(#cpc)">
<use href="#k" x="210.2" y="1561.06"/><use href="#k" x="223.98" y="1560.27"/><use href="#k" x="237.76" y="1559.2"/><use href="#k" x="251.54" y="1557.55"/><use href="#k" x="265.31" y="1555.7"/><use href="#k" x="279.09" y="1553.85"/><use href="#k" x="292.87" y="1551.66"/><use href="#k" x="306.65" y="1549.46"/><use href="#k" x="320.43" y="1547.02"/><use href="#k" x="334.21" y="1545.35"/><use href="#k" x="347.99" y="1543.43"/><use href="#k" x="361.76" y="1541.31"/><use href="#k" x="375.54" y="1538.92"/><use href="#k" x="389.32" y="1536.71"/><use href="#k" x="403.1" y="1534.9"/><use href="#k" x="416.88" y="1532.62"/><use href="#k" x="430.66" y="1530.76"/><use href="#k" x="444.44" y="1529.1"/><use href="#k" x="458.21" y="1527.25"/><use href="#k" x="471.99" y="1525.32"/><use href="#k" x="485.77" y="1523.7"/><use href="#k" x="499.55" y="1521.77"/><use href="#k" x="513.33" y="1519.84"/><use href="#k" x="527.11" y="1518.52"/><use href="#k" x="540.89" y="1517.14"/><use href="#k" x="554.66" y="1515.76"/><use href="#k" x="568.44" y="1514.44"/><use href="#k" x="582.22" y="1512.82"/><use href="#k" x="596" y="1511.44"/><use href="#k" x="609.78" y="1510.11"/><use href="#k" x="623.56" y="1509.01"/><use href="#k" x="637.34" y="1507.67"/><use href="#k" x="651.11" y="1506.84"/><use href="#k" x="664.89" y="1506.01"/><use href="#k" x="678.67" y="1504.66"/><use href="#k" x="692.45" y="1503.6"/><use href="#k" x="706.23" y="1502.77"/><use href="#k" x="720.01" y="1501.94"/><use href="#k" x="733.79" y="1500.84"/><use href="#k" x="747.56" y="1500.04"/><use href="#k" x="761.34" y="1499.49"/><use href="#k" x="775.12" y="1498.72"/><use href="#k" x="788.9" y="1497.35"/><use href="#k" x="802.68" y="1496.39"/><use href="#k" x="816.46" y="1495.59"/><use href="#k" x="830.24" y="1494.86"/><use href="#k" x="844.01" y="1494.07"/><use href="#k" x="857.79" y="1493.19"/><use href="#k" x="871.57" y="1492.27"/><use href="#k" x="885.35" y="1491.37"/><use href="#k" x="899.13" y="1490.54"/><use href="#k" x="912.91" y="1489.8"/><use href="#k" x="926.69" y="1489.11"/><use href="#k" x="940.46" y="1488.46"/><use href="#k" x="954.24" y="1487.84"/><use href="#k" x="968.02" y="1487.26"/><use href="#k" x="981.8" y="1486.71"/><use href="#k" x="995.58" y="1486.18"/><use href="#k" x="1009.36" y="1485.67"/><use href="#k" x="1023.14" y="1485.17"/><use href="#k" x="1036.91" y="1484.7"/><use href="#k" x="1050.69" y="1484.23"/><use href="#k" x="1064.47" y="1483.77"/><use href="#k" x="1078.25" y="1483.29"/><use href="#k" x="1092.03" y="1482.8"/><use href="#k" x="1105.81" y="1482.33"/><use href="#k" x="1119.59" y="1481.87"/><use href="#k" x="1133.36" y="1481.44"/><use href="#k" x="1147.14" y="1481.02"/><use href="#k" x="1160.92" y="1480.62"/><use href="#k" x="1174.7" y="1480.23"/><use href="#h" x="210.2" y="1561.06"/><use href="#h" x="223.98" y="1560.27"/><use href="#h" x="237.76" y="1559.2"/><use href="#h" x="251.54" y="1557.55"/><use href="#h" x="265.31" y="1555.7"/><use href="#h" x="279.09" y="1553.85"/><use href="#h" x="292.87" y="1551.66"/><use href="#h" x="306.65" y="1549.46"/><use href="#h" x="320.43" y="1547.02"/><use href="#h" x="334.21" y="1545.35"/><use href="#h" x="347.99" y="1543.43"/><use href="#h" x="361.76" y="1541.31"/><use href="#h" x="375.54" y="1538.92"/><use href="#h" x="389.32" y="1536.71"/><use href="#h" x="403.1" y="1534.9"/><use href="#h" x="416.88" y="1532.62"/><use href="#h" x="430.66" y="1530.76"/><use href="#h" x="444.44" y="1529.1"/><use href="#h" x="458.21" y="1527.25"/><use href="#h" x="471.99" y="1525.32"/><use href="#h" x="485.77" y="1523.7"/><use href="#h" x="499.55" y="1521.77"/><use href="#h" x="513.33" y="1519.84"/><use href="#h" x="527.11" y="1518.52"/><use href="#h" x="540.89" y="1517.14"/><use href="#h" x="554.66" y="1515.76"/><use href="#h" x="568.44" y="1514.44"/><use href="#h" x="582.22" y="1512.82"/><use href="#h" x="596" y="1511.44"/><use href="#h" x="609.78" y="1510.11"/><use href="#h" x="623.56" y="1509.01"/><use href="#h" x="637.34" y="1507.67"/><use href="#h" x="651.11" y="1506.84"/><use href="#h" x="664.89" y="1506.01"/><use href="#h" x="678.67" y="1504.66"/><use href="#h" x="692.45" y="1503.6"/><use href="#h" x="706.23" y="1502.77"/><use href="#h" x="720.01" y="1501.94"/><use href="#h" x="733.79" y="1500.84"/><use href="#h" x="747.56" y="1500.04"/><use href="#h" x="761.34" y="1499.49"/><use href="#h" x="775.12" y="1498.72"/><use href="#h" x="788.9" y="1497.35"/><use href="#h" x="802.68" y="1496.39"/><use href="#h" x="816.46" y="1495.59"/><use href="#h" x="830.24" y="1494.86"/><use href="#h" x="844.01" y="1494.07"/><use href="#h" x="857.79" y="1493.19"/><use href="#h" x="871.57" y="1492.27"/><use href="#h" x="885.35" y="1491.37"/><use href="#h" x="899.13" y="1490.54"/><use href="#h" x="912.91" y="1489.8"/><use href="#h" x="926.69" y="1489.11"/><use href="#h" x="940.46" y="1488.46"/><use href="#h" x="954.24" y="1487.84"/><use href="#h" x="968.02" y="1487.26"/><use href="#h" x="981.8" y="1486.71"/><use href="#h" x="995.58" y="1486.18"/><use href="#h" x="1009.36" y="1485.67"/><use href="#h" x="1023.14" y="1485.17"/><use href="#h" x="1036.91" y="1484.7"/><use href="#h" x="1050.69" y="1484.23"/><use href="#h" x="1064.47" y="1483.77"/><use href="#h" x="1078.25" y="1483.29"/><use href="#h" x="1092.03" y="1482.8"/><use href="#h" x="1105.81" y="1482.33"/><use href="#h" x="1119.59" y="1481.87"/><use href="#h" x="1133.36" y="1481.44"/><use href="#h" x="1147.14" y="1481.02"/><use href="#h" x="1160.92" y="1480.62"/><use href="#h" x="1174.7" y="1480.23"/>
<use href="#r" x="210.2" y="1531.23"/><use href="#r" x="223.98" y="1530.7"/><use href="#r" x="237.76" y="1529.1"/><use href="#r" x="251.54" y="1527.17"/><use href="#r" x="265.31" y="1525.06"/><use href="#r" x="279.09" y="1522.44"/><use href="#r" x="292.87" y="1519.15"/><use href="#r" x="306.65" y="1515.85"/><use href="#r" x="320.43" y="1511.8"/><use href="#r" x="334.21" y="1508.21"/><use href="#r" x="347.99" y="1504.9"/><use href="#r" x="361.76" y="1501.99"/><use href="#r" x="375.54" y="1498.82"/><use href="#r" x="389.32" y="1495.5"/><use href="#r" x="403.1" y="1492.9"/><use href="#r" x="416.88" y="1490.04"/><use href="#r" x="430.66" y="1487.38"/><use href="#r" x="444.44" y="1485.17"/><use href="#r" x="458.21" y="1482.52"/><use href="#r" x="471.99" y="1480.3"/><use href="#r" x="485.77" y="1478.4"/><use href="#r" x="499.55" y="1476.47"/><use href="#r" x="513.33" y="1474.82"/><use href="#r" x="527.11" y="1472.96"/><use href="#r" x="540.89" y="1471.03"/><use href="#r" x="554.66" y="1469.38"/><use href="#r" x="568.44" y="1468.06"/><use href="#r" x="582.22" y="1466.17"/><use href="#r" x="596" y="1464.78"/><use href="#r" x="609.78" y="1463.99"/><use href="#r" x="623.56" y="1462.63"/><use href="#r" x="637.34" y="1461.3"/><use href="#r" x="651.11" y="1460.19"/><use href="#r" x="664.89" y="1459.36"/><use href="#r" x="678.67" y="1458.55"/><use href="#r" x="692.45" y="1457.48"/><use href="#r" x="706.23" y="1456.65"/><use href="#r" x="720.01" y="1455.83"/><use href="#r" x="733.79" y="1454.73"/><use href="#r" x="747.56" y="1453.93"/><use href="#r" x="761.34" y="1453.11"/><use href="#r" x="775.12" y="1452.6"/><use href="#r" x="788.9" y="1450.7"/><use href="#r" x="802.68" y="1449.77"/><use href="#r" x="816.46" y="1449.11"/><use href="#r" x="830.24" y="1448.56"/><use href="#r" x="844.01" y="1447.96"/><use href="#r" x="857.79" y="1447.28"/><use href="#r" x="871.57" y="1446.6"/><use href="#r" x="885.35" y="1445.92"/><use href="#r" x="899.13" y="1445.24"/><use href="#r" x="912.91" y="1444.55"/><use href="#r" x="926.69" y="1443.86"/><use href="#r" x="940.46" y="1443.18"/><use href="#r" x="954.24" y="1442.54"/><use href="#r" x="968.02" y="1441.94"/><use href="#r" x="981.8" y="1441.36"/><use href="#r" x="995.58" y="1440.83"/><use href="#r" x="1009.36" y="1440.37"/><use href="#r" x="1023.14" y="1439.98"/><use href="#r" x="1036.91" y="1439.65"/><use href="#r" x="1050.69" y="1439.33"/><use href="#r" x="1064.47" y="1439.01"/><use href="#r" x="1078.25" y="1438.67"/><use href="#r" x="1092.03" y="1438.33"/><use href="#r" x="1105.81" y="1438"/><use href="#r" x="1119.59" y="1437.66"/><use href="#r" x="1133.36" y="1437.32"/><use href="#r" x="1147.14" y="1436.97"/><use href="#r" x="1160.92" y="1436.63"/><use href="#r" x="1174.7" y="1436.29"/><use href="#h" x="210.2" y="1531.23"/><use href="#h" x="223.98" y="1530.7"/><use href="#h" x="237.76" y="1529.1"/><use href="#h" x="251.54" y="1527.17"/><use href="#h" x="265.31" y="1525.06"/><use href="#h" x="279.09" y="1522.44"/><use href="#h" x="292.87" y="1519.15"/><use href="#h" x="306.65" y="1515.85"/><use href="#h" x="320.43" y="1511.8"/><use href="#h" x="334.21" y="1508.21"/><use href="#h" x="347.99" y="1504.9"/><use href="#h" x="361.76" y="1501.99"/><use href="#h" x="375.54" y="1498.82"/><use href="#h" x="389.32" y="1495.5"/><use href="#h" x="403.1" y="1492.9"/><use href="#h" x="416.88" y="1490.04"/><use href="#h" x="430.66" y="1487.38"/><use href="#h" x="444.44" y="1485.17"/><use href="#h" x="458.21" y="1482.52"/><use href="#h" x="471.99" y="1480.3"/><use href="#h" x="485.77" y="1478.4"/><use href="#h" x="499.55" y="1476.47"/><use href="#h" x="513.33" y="1474.82"/><use href="#h" x="527.11" y="1472.96"/><use href="#h" x="540.89" y="1471.03"/><use href="#h" x="554.66" y="1469.38"/><use href="#h" x="568.44" y="1468.06"/><use href="#h" x="582.22" y="1466.17"/><use href="#h" x="596" y="1464.78"/><use href="#h" x="609.78" y="1463.99"/><use href="#h" x="623.56" y="1462.63"/><use href="#h" x="637.34" y="1461.3"/><use href="#h" x="651.11" y="1460.19"/><use href="#h" x="664.89" y="1459.36"/><use href="#h" x="678.67" y="1458.55"/><use href="#h" x="692.45" y="1457.48"/><use href="#h" x="706.23" y="1456.65"/><use href="#h" x="720.01" y="1455.83"/><use href="#h" x="733.79" y="1454.73"/><use href="#h" x="747.56" y="1453.93"/><use href="#h" x="761.34" y="1453.11"/><use href="#h" x="775.12" y="1452.6"/><use href="#h" x="788.9" y="1450.7"/><use href="#h" x="802.68" y="1449.77"/><use href="#h" x="816.46" y="1449.11"/><use href="#h" x="830.24" y="1448.56"/><use href="#h" x="844.01" y="1447.96"/><use href="#h" x="857.79" y="1447.28"/><use href="#h" x="871.57" y="1446.6"/><use href="#h" x="885.35" y="1445.92"/><use href="#h" x="899.13" y="1445.24"/><use href="#h" x="912.91" y="1444.55"/><use href="#h" x="926.69" y="1443.86"/><use href="#h" x="940.46" y="1443.18"/><use href="#h" x="954.24" y="1442.54"/><use href="#h" x="968.02" y="1441.94"/><use href="#h" x="981.8" y="1441.36"/><use href="#h" x="995.58" y="1440.83"/><use href="#h" x="1009.36" y="1440.37"/><use href="#h" x="1023.14" y="1439.98"/><use href="#h" x="1036.91" y="1439.65"/><use href="#h" x="1050.69" y="1439.33"/><use href="#h" x="1064.47" y="1439.01"/><use href="#h" x="1078.25" y="1438.67"/><use href="#h" x="1092.03" y="1438.33"/><use href="#h" x="1105.81" y="1438"/><use href="#h" x="1119.59" y="1437.66"/><use href="#h" x="1133.36" y="1437.32"/><use href="#h" x="1147.14" y="1436.97"/><use href="#h" x="1160.92" y="1436.63"/><use href="#h" x="1174.7" y="1436.29"/>
<use href="#b" x="210.2" y="1399.65"/><use href="#b" x="223.98" y="1393.82"/><use href="#b" x="237.76" y="1387.11"/><use href="#b" x="251.54" y="1376.41"/><use href="#b" x="265.31" y="1367.93"/><use href="#b" x="279.09" y="1359.18"/><use href="#b" x="292.87" y="1350.89"/><use href="#b" x="306.65" y="1342.62"/><use href="#b" x="320.43" y="1335.31"/><use href="#b" x="334.21" y="1328.14"/><use href="#b" x="347.99" y="1322.07"/><use href="#b" x="361.76" y="1315.96"/><use href="#b" x="375.54" y="1310.91"/><use href="#b" x="389.32" y="1306.49"/><use href="#b" x="403.1" y="1301.52"/><use href="#b" x="416.88" y="1297.75"/><use href="#b" x="430.66" y="1293.23"/><use href="#b" x="444.44" y="1289.63"/><use href="#b" x="458.21" y="1286.18"/><use href="#b" x="471.99" y="1282.87"/><use href="#b" x="485.77" y="1279.62"/><use href="#b" x="499.55" y="1276.58"/><use href="#b" x="513.33" y="1273.83"/><use href="#b" x="527.11" y="1271.18"/><use href="#b" x="540.89" y="1268.42"/><use href="#b" x="554.66" y="1265.94"/><use href="#b" x="568.44" y="1263.82"/><use href="#b" x="582.22" y="1261.66"/><use href="#b" x="596" y="1259.73"/><use href="#b" x="609.78" y="1257.61"/><use href="#b" x="623.56" y="1255.67"/><use href="#b" x="637.34" y="1254.35"/><use href="#b" x="651.11" y="1252.43"/><use href="#b" x="664.89" y="1250.77"/><use href="#b" x="678.67" y="1249.42"/><use href="#b" x="692.45" y="1248.1"/><use href="#b" x="706.23" y="1246.72"/><use href="#b" x="720.01" y="1245.61"/><use href="#b" x="733.79" y="1244.78"/><use href="#b" x="747.56" y="1243.45"/><use href="#b" x="761.34" y="1242.08"/><use href="#b" x="775.12" y="1241.56"/><use href="#b" x="788.9" y="1240.86"/><use href="#b" x="802.68" y="1240"/><use href="#b" x="816.46" y="1239.03"/><use href="#b" x="830.24" y="1237.99"/><use href="#b" x="844.01" y="1236.93"/><use href="#b" x="857.79" y="1235.9"/><use href="#b" x="871.57" y="1234.93"/><use href="#b" x="885.35" y="1234.09"/><use href="#b" x="899.13" y="1233.4"/><use href="#b" x="912.91" y="1232.82"/><use href="#b" x="926.69" y="1232.28"/><use href="#b" x="940.46" y="1231.76"/><use href="#b" x="954.24" y="1231.28"/><use href="#b" x="968.02" y="1230.83"/><use href="#b" x="981.8" y="1230.41"/><use href="#b" x="995.58" y="1230.02"/><use href="#b" x="1009.36" y="1229.67"/><use href="#b" x="1023.14" y="1229.35"/><use href="#b" x="1036.91" y="1229.07"/><use href="#b" x="1050.69" y="1228.8"/><use href="#b" x="1064.47" y="1228.55"/><use href="#b" x="1078.25" y="1228.31"/><use href="#b" x="1092.03" y="1228.08"/><use href="#b" x="1105.81" y="1227.87"/><use href="#b" x="1119.59" y="1227.68"/><use href="#b" x="1133.36" y="1227.51"/><use href="#b" x="1147.14" y="1227.36"/><use href="#b" x="1160.92" y="1227.25"/><use href="#b" x="1174.7" y="1227.16"/><use href="#h" x="210.2" y="1399.65"/><use href="#h" x="223.98" y="1393.82"/><use href="#h" x="237.76" y="1387.11"/><use href="#h" x="251.54" y="1376.41"/><use href="#h" x="265.31" y="1367.93"/><use href="#h" x="279.09" y="1359.18"/><use href="#h" x="292.87" y="1350.89"/><use href="#h" x="306.65" y="1342.62"/><use href="#h" x="320.43" y="1335.31"/><use href="#h" x="334.21" y="1328.14"/><use href="#h" x="347.99" y="1322.07"/><use href="#h" x="361.76" y="1315.96"/><use href="#h" x="375.54" y="1310.91"/><use href="#h" x="389.32" y="1306.49"/><use href="#h" x="403.1" y="1301.52"/><use href="#h" x="416.88" y="1297.75"/><use href="#h" x="430.66" y="1293.23"/><use href="#h" x="444.44" y="1289.63"/><use href="#h" x="458.21" y="1286.18"/><use href="#h" x="471.99" y="1282.87"/><use href="#h" x="485.77" y="1279.62"/><use href="#h" x="499.55" y="1276.58"/><use href="#h" x="513.33" y="1273.83"/><use href="#h" x="527.11" y="1271.18"/><use href="#h" x="540.89" y="1268.42"/><use href="#h" x="554.66" y="1265.94"/><use href="#h" x="568.44" y="1263.82"/><use href="#h" x="582.22" y="1261.66"/><use href="#h" x="596" y="1259.73"/><use href="#h" x="609.78" y="1257.61"/><use href="#h" x="623.56" y="1255.67"/><use href="#h" x="637.34" y="1254.35"/><use href="#h" x="651.11" y="1252.43"/><use href="#h" x="664.89" y="1250.77"/><use href="#h" x="678.67" y="1249.42"/><use href="#h" x="692.45" y="1248.1"/><use href="#h" x="706.23" y="1246.72"/><use href="#h" x="720.01" y="1245.61"/><use href="#h" x="733.79" y="1244.78"/><use href="#h" x="747.56" y="1243.45"/><use href="#h" x="761.34" y="1242.08"/><use href="#h" x="775.12" y="1241.56"/><use href="#h" x="788.9" y="1240.86"/><use href="#h" x="802.68" y="1240"/><use href="#h" x="816.46" y="1239.03"/><use href="#h" x="830.24" y="1237.99"/><use href="#h" x="844.01" y="1236.93"/><use href="#h" x="857.79" y="1235.9"/><use href="#h" x="871.57" y="1234.93"/><use href="#h" x="885.35" y="1234.09"/><use href="#h" x="899.13" y="1233.4"/><use href="#h" x="912.91" y="1232.82"/><use href="#h" x="926.69" y="1232.28"/><use href="#h" x="940.46" y="1231.76"/><use href="#h" x="954.24" y="1231.28"/><use href="#h" x="968.02" y="1230.83"/><use href="#h" x="981.8" y="1230.41"/><use href="#h" x="995.58" y="1230.02"/><use href="#h" x="1009.36" y="1229.67"/><use href="#h" x="1023.14" y="1229.35"/><use href="#h" x="1036.91" y="1229.07"/><use href="#h" x="1050.69" y="1228.8"/><use href="#h" x="1064.47" y="1228.55"/><use href="#h" x="1078.25" y="1228.31"/><use href="#h" x="1092.03" y="1228.08"/><use href="#h" x="1105.81" y="1227.87"/><use href="#h" x="1119.59" y="1227.68"/><use href="#h" x="1133.36" y="1227.51"/><use href="#h" x="1147.14" y="1227.36"/><use href="#h" x="1160.92" y="1227.25"/><use href="#h" x="1174.7" y="1227.16"/>
<use href="#t" x="210.2" y="1216.31"/><use href="#t" x="223.98" y="1216.31"/><use href="#t" x="237.76" y="1221.19"/><use href="#t" x="251.54" y="1217.69"/><use href="#t" x="265.31" y="1215.6"/><use href="#t" x="279.09" y="1207.42"/><use href="#t" x="292.87" y="1211.68"/><use href="#t" x="306.65" y="1210.38"/><use href="#t" x="320.43" y="1208.78"/><use href="#t" x="334.21" y="1204.13"/><use href="#t" x="347.99" y="1202.74"/><use href="#t" x="361.76" y="1201.43"/><use href="#t" x="375.54" y="1196.88"/><use href="#t" x="389.32" y="1195.43"/><use href="#t" x="403.1" y="1195.96"/><use href="#t" x="416.88" y="1195.44"/><use href="#t" x="430.66" y="1191.16"/><use href="#t" x="444.44" y="1190"/><use href="#t" x="458.21" y="1190"/><use href="#t" x="471.99" y="1186.05"/><use href="#t" x="485.77" y="1182.41"/><use href="#t" x="499.55" y="1184.52"/><use href="#t" x="513.33" y="1187.83"/><use href="#t" x="527.11" y="1187.83"/><use href="#t" x="540.89" y="1183.76"/><use href="#t" x="554.66" y="1185.93"/><use href="#t" x="568.44" y="1183.29"/><use href="#t" x="582.22" y="1176.45"/><use href="#t" x="596" y="1180.51"/><use href="#t" x="609.78" y="1177.13"/><use href="#t" x="623.56" y="1170.36"/><use href="#t" x="637.34" y="1168.85"/><use href="#t" x="651.11" y="1170.94"/><use href="#t" x="664.89" y="1174.78"/><use href="#t" x="678.67" y="1176.98"/><use href="#t" x="692.45" y="1174.34"/><use href="#t" x="706.23" y="1166.68"/><use href="#t" x="720.01" y="1168.84"/><use href="#t" x="733.79" y="1166.14"/><use href="#t" x="747.56" y="1171.01"/><use href="#t" x="761.34" y="1163.53"/><use href="#t" x="775.12" y="1162.09"/><use href="#t" x="788.9" y="1160.74"/><use href="#t" x="802.68" y="1159.35"/><use href="#t" x="816.46" y="1162.86"/><use href="#t" x="830.24" y="1159.42"/><use href="#t" x="844.01" y="1156.1"/><use href="#t" x="857.79" y="1155.27"/><use href="#t" x="871.57" y="1153.94"/><use href="#t" x="885.35" y="1152.01"/><use href="#t" x="899.13" y="1146.33"/><use href="#t" x="912.91" y="1141.72"/><use href="#t" x="926.69" y="1147.65"/><use href="#t" x="940.46" y="1151.21"/><use href="#t" x="954.24" y="1149.86"/><use href="#t" x="968.02" y="1153.92"/><use href="#t" x="981.8" y="1147.69"/><use href="#t" x="995.58" y="1153.85"/><use href="#t" x="1009.36" y="1155.27"/><use href="#t" x="1023.14" y="1156.1"/><use href="#t" x="1036.91" y="1158.8"/><use href="#t" x="1050.69" y="1157.18"/><use href="#t" x="1064.47" y="1156.65"/><use href="#t" x="1078.25" y="1149.33"/><use href="#t" x="1092.03" y="1155.82"/><use href="#t" x="1105.81" y="1147.14"/><use href="#t" x="1119.59" y="1148.5"/><use href="#t" x="1133.36" y="1143.08"/><use href="#t" x="1147.14" y="1143.62"/><use href="#t" x="1160.92" y="1139.02"/><use href="#t" x="1174.7" y="1143.23"/><use href="#h" x="210.2" y="1216.31"/><use href="#h" x="223.98" y="1216.31"/><use href="#h" x="237.76" y="1221.19"/><use href="#h" x="251.54" y="1217.69"/><use href="#h" x="265.31" y="1215.6"/><use href="#h" x="279.09" y="1207.42"/><use href="#h" x="292.87" y="1211.68"/><use href="#h" x="306.65" y="1210.38"/><use href="#h" x="320.43" y="1208.78"/><use href="#h" x="334.21" y="1204.13"/><use href="#h" x="347.99" y="1202.74"/><use href="#h" x="361.76" y="1201.43"/><use href="#h" x="375.54" y="1196.88"/><use href="#h" x="389.32" y="1195.43"/><use href="#h" x="403.1" y="1195.96"/><use href="#h" x="416.88" y="1195.44"/><use href="#h" x="430.66" y="1191.16"/><use href="#h" x="444.44" y="1190"/><use href="#h" x="458.21" y="1190"/><use href="#h" x="471.99" y="1186.05"/><use href="#h" x="485.77" y="1182.41"/><use href="#h" x="499.55" y="1184.52"/><use href="#h" x="513.33" y="1187.83"/><use href="#h" x="527.11" y="1187.83"/><use href="#h" x="540.89" y="1183.76"/><use href="#h" x="554.66" y="1185.93"/><use href="#h" x="568.44" y="1183.29"/><use href="#h" x="582.22" y="1176.45"/><use href="#h" x="596" y="1180.51"/><use href="#h" x="609.78" y="1177.13"/><use href="#h" x="623.56" y="1170.36"/><use href="#h" x="637.34" y="1168.85"/><use href="#h" x="651.11" y="1170.94"/><use href="#h" x="664.89" y="1174.78"/><use href="#h" x="678.67" y="1176.98"/><use href="#h" x="692.45" y="1174.34"/><use href="#h" x="706.23" y="1166.68"/><use href="#h" x="720.01" y="1168.84"/><use href="#h" x="733.79" y="1166.14"/><use href="#h" x="747.56" y="1171.01"/><use href="#h" x="761.34" y="1163.53"/><use href="#h" x="775.12" y="1162.09"/><use href="#h" x="788.9" y="1160.74"/><use href="#h" x="802.68" y="1159.35"/><use href="#h" x="816.46" y="1162.86"/><use href="#h" x="830.24" y="1159.42"/><use href="#h" x="844.01" y="1156.1"/><use href="#h" x="857.79" y="1155.27"/><use href="#h" x="871.57" y="1153.94"/><use href="#h" x="885.35" y="1152.01"/><use href="#h" x="899.13" y="1146.33"/><use href="#h" x="912.91" y="1141.72"/><use href="#h" x="926.69" y="1147.65"/><use href="#h" x="940.46" y="1151.21"/><use href="#h" x="954.24" y="1149.86"/><use href="#h" x="968.02" y="1153.92"/><use href="#h" x="981.8" y="1147.69"/><use href="#h" x="995.58" y="1153.85"/><use href="#h" x="1009.36" y="1155.27"/><use href="#h" x="1023.14" y="1156.1"/><use href="#h" x="1036.91" y="1158.8"/><use href="#h" x="1050.69" y="1157.18"/><use href="#h" x="1064.47" y="1156.65"/><use href="#h" x="1078.25" y="1149.33"/><use href="#h" x="1092.03" y="1155.82"/><use href="#h" x="1105.81" y="1147.14"/><use href="#h" x="1119.59" y="1148.5"/><use href="#h" x="1133.36" y="1143.08"/><use href="#h" x="1147.14" y="1143.62"/><use href="#h" x="1160.92" y="1139.02"/><use href="#h" x="1174.7" y="1143.23"/>
</g>
<text transform="translate(218.07 1033) scale(0.9765 1.0000)" font-size="82" fill="#000">(c)</text>
<use href="#k" x="568" y="1007.6"/><use href="#h" x="568" y="1007.6"/>
<text transform="translate(623.99 1021.2) scale(1.0134 1.0000)" font-size="51" fill="#000"><tspan font-style="italic">w</tspan>=10 wt%</text>
<use href="#r" x="886.1" y="1007.6"/><use href="#h" x="886.1" y="1007.6"/>
<text transform="translate(941.99 1021.2) scale(1.0138 1.0000)" font-size="51" fill="#000"><tspan font-style="italic">w</tspan>=20 wt%</text>
<use href="#b" x="568" y="1071.8"/><use href="#h" x="568" y="1071.8"/>
<text transform="translate(623.99 1085.4) scale(1.0134 1.0000)" font-size="51" fill="#000"><tspan font-style="italic">w</tspan>=30 wt%</text>
<use href="#t" x="886.1" y="1071.8"/><use href="#h" x="886.1" y="1071.8"/>
<text transform="translate(941.99 1085.4) scale(1.0138 1.0000)" font-size="51" fill="#000"><tspan font-style="italic">w</tspan>=40 wt%</text>
</g>
<g id="panel-d">
<rect x="1399" y="963.7" width="977.3" height="722.7" fill="none" stroke="#000" stroke-width="5.1"/>
<path d="M1887.65 1686.4v-12.2M1535.21 1686.4v-7.6M1617.5 1686.4v-7.6M1676.65 1686.4v-7.6M1722.86 1686.4v-7.6M1760.78 1686.4v-7.6M1792.94 1686.4v-7.6M1820.86 1686.4v-7.6M1845.54 1686.4v-7.6M1867.64 1686.4v-7.6M2023.86 1686.4v-7.6M2106.15 1686.4v-7.6M2165.3 1686.4v-7.6M2211.51 1686.4v-7.6M2249.43 1686.4v-7.6M2281.59 1686.4v-7.6M2309.51 1686.4v-7.6M2334.19 1686.4v-7.6M2356.29 1686.4v-7.6" stroke="#000" stroke-width="4.2" fill="none"/>
<path d="M1399 1445.5h12.2M1399 1204.6h12.2M1399 1619.25h7.6M1399 1578.68h7.6M1399 1549.52h7.6M1399 1526.74h7.6M1399 1508.05h7.6M1399 1492.19h7.6M1399 1478.43h7.6M1399 1466.26h7.6M1399 1455.37h7.6M1399 1378.35h7.6M1399 1337.78h7.6M1399 1308.62h7.6M1399 1285.84h7.6M1399 1267.15h7.6M1399 1251.29h7.6M1399 1237.53h7.6M1399 1225.36h7.6M1399 1214.47h7.6M1399 1137.45h7.6M1399 1096.88h7.6M1399 1067.72h7.6M1399 1044.94h7.6M1399 1026.25h7.6M1399 1010.39h7.6M1399 996.63h7.6M1399 984.46h7.6M1399 973.57h7.6" stroke="#000" stroke-width="4.2" fill="none"/>
<text transform="translate(1285.08 979.2) scale(0.9796 1.0000)" font-size="52" fill="#000">1000</text>
<text transform="translate(1309 1220.1) scale(1.0000 1.0000)" font-size="52" fill="#000">100</text>
<text transform="translate(1337.17 1461) scale(0.9565 1.0000)" font-size="52" fill="#000">10</text>
<text transform="translate(1366.66 1701.9) scale(0.7105 1.0000)" font-size="52" fill="#000">1</text>
<text transform="translate(1385.5 1736.5) scale(1.0000 1.0000)" font-size="52" fill="#000">1</text>
<text transform="translate(1860.65 1736.5) scale(1.0000 1.0000)" font-size="52" fill="#000">10</text>
<text transform="translate(2336.02 1736.5) scale(1.0069 1.0000)" font-size="52" fill="#000">100</text>
<text transform="translate(1732.09 1782) scale(0.9713 1.0000)" font-size="52.5" fill="#000">Shear rate, <tspan font-style="italic">γ</tspan> (s<tspan font-size="31" dy="-28">-1</tspan><tspan dy="28">)</tspan></text>
<text transform="translate(1303 1545) rotate(-90) scale(1.0475 1.0000)" font-size="50" fill="#000">Viscosity, <tspan font-style="italic">η</tspan> (Pa.s)</text>
<g clip-path="url(#cpd)">
<use href="#k" x="1475.69" y="1459.13"/><use href="#k" x="1622.79" y="1529.93"/><use href="#k" x="1708.84" y="1557.32"/><use href="#k" x="1769.89" y="1573.06"/><use href="#k" x="1817.24" y="1584.45"/><use href="#k" x="1855.94" y="1591.23"/><use href="#k" x="1888.65" y="1595.84"/><use href="#k" x="1916.99" y="1600.72"/><use href="#k" x="1941.98" y="1603.98"/><use href="#k" x="1964.34" y="1606.96"/><use href="#k" x="1984.57" y="1609.4"/><use href="#k" x="2003.03" y="1611.76"/><use href="#k" x="2020.02" y="1613.97"/><use href="#k" x="2035.75" y="1615.93"/><use href="#k" x="2050.39" y="1617.54"/><use href="#k" x="2064.09" y="1618.91"/><use href="#k" x="2076.95" y="1620.16"/><use href="#k" x="2089.08" y="1621.27"/><use href="#k" x="2100.56" y="1622.24"/><use href="#k" x="2111.44" y="1623.07"/><use href="#k" x="2121.8" y="1623.77"/><use href="#k" x="2131.67" y="1624.35"/><use href="#k" x="2141.1" y="1624.85"/><use href="#k" x="2150.13" y="1625.32"/><use href="#k" x="2158.8" y="1625.74"/><use href="#k" x="2167.12" y="1626.13"/><use href="#k" x="2175.13" y="1626.49"/><use href="#k" x="2182.85" y="1626.82"/><use href="#k" x="2190.29" y="1627.12"/><use href="#k" x="2197.49" y="1627.4"/><use href="#k" x="2204.45" y="1627.66"/><use href="#k" x="2211.18" y="1627.89"/><use href="#k" x="2217.71" y="1628.11"/><use href="#k" x="2224.05" y="1628.31"/><use href="#k" x="2230.2" y="1628.49"/><use href="#k" x="2236.18" y="1628.66"/><use href="#k" x="2241.99" y="1628.81"/><use href="#k" x="2247.65" y="1628.95"/><use href="#k" x="2253.17" y="1629.07"/><use href="#k" x="2258.54" y="1629.19"/><use href="#k" x="2263.78" y="1629.31"/><use href="#k" x="2268.89" y="1629.42"/><use href="#k" x="2273.89" y="1629.53"/><use href="#k" x="2278.77" y="1629.64"/><use href="#k" x="2283.54" y="1629.74"/><use href="#k" x="2288.2" y="1629.83"/><use href="#k" x="2292.76" y="1629.93"/><use href="#k" x="2297.23" y="1630.01"/><use href="#k" x="2301.61" y="1630.1"/><use href="#k" x="2305.89" y="1630.18"/><use href="#k" x="2310.1" y="1630.25"/><use href="#k" x="2314.22" y="1630.32"/><use href="#k" x="2318.26" y="1630.39"/><use href="#k" x="2322.23" y="1630.46"/><use href="#k" x="2326.12" y="1630.52"/><use href="#k" x="2329.94" y="1630.57"/><use href="#k" x="2333.7" y="1630.62"/><use href="#k" x="2337.39" y="1630.67"/><use href="#k" x="2341.02" y="1630.72"/><use href="#k" x="2344.59" y="1630.76"/><use href="#k" x="2348.09" y="1630.8"/><use href="#k" x="2351.55" y="1630.84"/><use href="#k" x="2354.94" y="1630.87"/><use href="#k" x="2358.28" y="1630.9"/><use href="#k" x="2361.57" y="1630.92"/><use href="#k" x="2364.81" y="1630.95"/><use href="#k" x="2368" y="1630.97"/><use href="#k" x="2371.15" y="1630.98"/><use href="#k" x="2374.25" y="1631"/><use href="#k" x="2377.3" y="1631.01"/><use href="#h" x="1475.69" y="1459.13"/><use href="#h" x="1622.79" y="1529.93"/><use href="#h" x="1708.84" y="1557.32"/><use href="#h" x="1769.89" y="1573.06"/><use href="#h" x="1817.24" y="1584.45"/><use href="#h" x="1855.94" y="1591.23"/><use href="#h" x="1888.65" y="1595.84"/><use href="#h" x="1916.99" y="1600.72"/><use href="#h" x="1941.98" y="1603.98"/><use href="#h" x="1964.34" y="1606.96"/><use href="#h" x="1984.57" y="1609.4"/><use href="#h" x="2003.03" y="1611.76"/><use href="#h" x="2020.02" y="1613.97"/><use href="#h" x="2035.75" y="1615.93"/><use href="#h" x="2050.39" y="1617.54"/><use href="#h" x="2064.09" y="1618.91"/><use href="#h" x="2076.95" y="1620.16"/><use href="#h" x="2089.08" y="1621.27"/><use href="#h" x="2100.56" y="1622.24"/><use href="#h" x="2111.44" y="1623.07"/><use href="#h" x="2121.8" y="1623.77"/><use href="#h" x="2131.67" y="1624.35"/><use href="#h" x="2141.1" y="1624.85"/><use href="#h" x="2150.13" y="1625.32"/><use href="#h" x="2158.8" y="1625.74"/><use href="#h" x="2167.12" y="1626.13"/><use href="#h" x="2175.13" y="1626.49" opacity="0.94"/><use href="#h" x="2182.85" y="1626.82" opacity="0.87"/><use href="#h" x="2190.29" y="1627.12" opacity="0.82"/><use href="#h" x="2197.49" y="1627.4" opacity="0.77"/><use href="#h" x="2204.45" y="1627.66" opacity="0.72"/><use href="#h" x="2211.18" y="1627.89" opacity="0.68"/><use href="#h" x="2217.71" y="1628.11" opacity="0.64"/><use href="#h" x="2224.05" y="1628.31" opacity="0.6"/><use href="#h" x="2230.2" y="1628.49" opacity="0.56"/><use href="#h" x="2236.18" y="1628.66" opacity="0.53"/><use href="#h" x="2241.99" y="1628.81" opacity="0.5"/><use href="#h" x="2247.65" y="1628.95" opacity="0.47"/><use href="#h" x="2253.17" y="1629.07" opacity="0.45"/><use href="#h" x="2258.54" y="1629.19" opacity="0.42"/><use href="#h" x="2263.78" y="1629.31" opacity="0.4"/><use href="#h" x="2268.89" y="1629.42" opacity="0.38"/><use href="#h" x="2273.89" y="1629.53" opacity="0.36"/><use href="#h" x="2278.77" y="1629.64" opacity="0.34"/><use href="#h" x="2283.54" y="1629.74" opacity="0.32"/><use href="#h" x="2288.2" y="1629.83" opacity="0.3"/><use href="#h" x="2292.76" y="1629.93" opacity="0.29"/><use href="#h" x="2297.23" y="1630.01" opacity="0.27"/><use href="#h" x="2301.61" y="1630.1" opacity="0.26"/><use href="#h" x="2305.89" y="1630.18" opacity="0.25"/><use href="#h" x="2310.1" y="1630.25" opacity="0.23"/><use href="#h" x="2314.22" y="1630.32" opacity="0.22"/><use href="#h" x="2318.26" y="1630.39" opacity="0.21"/><use href="#h" x="2322.23" y="1630.46" opacity="0.2"/><use href="#h" x="2326.12" y="1630.52" opacity="0.19"/><use href="#h" x="2329.94" y="1630.57" opacity="0.18"/><use href="#h" x="2333.7" y="1630.62" opacity="0.17"/><use href="#h" x="2337.39" y="1630.67" opacity="0.16"/><use href="#h" x="2341.02" y="1630.72" opacity="0.15"/><use href="#h" x="2344.59" y="1630.76" opacity="0.14"/><use href="#h" x="2348.09" y="1630.8" opacity="0.14"/><use href="#h" x="2351.55" y="1630.84" opacity="0.13"/><use href="#h" x="2354.94" y="1630.87" opacity="0.12"/><use href="#h" x="2358.28" y="1630.9" opacity="0.12"/><use href="#h" x="2361.57" y="1630.92" opacity="0.12"/><use href="#h" x="2364.81" y="1630.95" opacity="0.12"/><use href="#h" x="2368" y="1630.97" opacity="0.12"/><use href="#h" x="2371.15" y="1630.98" opacity="0.12"/><use href="#h" x="2374.25" y="1631" opacity="0.12"/><use href="#h" x="2377.3" y="1631.01"/>
<use href="#r" x="1475.69" y="1509.31"/><use href="#r" x="1622.79" y="1532.37"/><use href="#r" x="1708.84" y="1545.12"/><use href="#r" x="1769.89" y="1550"/><use href="#r" x="1817.24" y="1554.07"/><use href="#r" x="1855.94" y="1556.24"/><use href="#r" x="1888.65" y="1558.14"/><use href="#r" x="1916.99" y="1560.04"/><use href="#r" x="1941.98" y="1561.39"/><use href="#r" x="1964.34" y="1562.21"/><use href="#r" x="1984.57" y="1563.29"/><use href="#r" x="2003.03" y="1564.18"/><use href="#r" x="2020.02" y="1564.96"/><use href="#r" x="2035.75" y="1565.66"/><use href="#r" x="2050.39" y="1566.3"/><use href="#r" x="2064.09" y="1566.88"/><use href="#r" x="2076.95" y="1567.43"/><use href="#r" x="2089.08" y="1567.95"/><use href="#r" x="2100.56" y="1568.44"/><use href="#r" x="2111.44" y="1568.91"/><use href="#r" x="2121.8" y="1569.37"/><use href="#r" x="2131.67" y="1569.82"/><use href="#r" x="2141.1" y="1570.25"/><use href="#r" x="2150.13" y="1570.67"/><use href="#r" x="2158.8" y="1571.06"/><use href="#r" x="2167.12" y="1571.45"/><use href="#r" x="2175.13" y="1571.82"/><use href="#r" x="2182.85" y="1572.17"/><use href="#r" x="2190.29" y="1572.52"/><use href="#r" x="2197.49" y="1572.85"/><use href="#r" x="2204.45" y="1573.17"/><use href="#r" x="2211.18" y="1573.49"/><use href="#r" x="2217.71" y="1573.79"/><use href="#r" x="2224.05" y="1574.09"/><use href="#r" x="2230.2" y="1574.37"/><use href="#r" x="2236.18" y="1574.65"/><use href="#r" x="2241.99" y="1574.93"/><use href="#r" x="2247.65" y="1575.19"/><use href="#r" x="2253.17" y="1575.45"/><use href="#r" x="2258.54" y="1575.71"/><use href="#r" x="2263.78" y="1575.95"/><use href="#r" x="2268.89" y="1576.2"/><use href="#r" x="2273.89" y="1576.43"/><use href="#r" x="2278.77" y="1576.66"/><use href="#r" x="2283.54" y="1576.89"/><use href="#r" x="2288.2" y="1577.11"/><use href="#r" x="2292.76" y="1577.33"/><use href="#r" x="2297.23" y="1577.54"/><use href="#r" x="2301.61" y="1577.75"/><use href="#r" x="2305.89" y="1577.96"/><use href="#r" x="2310.1" y="1578.16"/><use href="#r" x="2314.22" y="1578.36"/><use href="#r" x="2318.26" y="1578.55"/><use href="#r" x="2322.23" y="1578.74"/><use href="#r" x="2326.12" y="1578.93"/><use href="#r" x="2329.94" y="1579.11"/><use href="#r" x="2333.7" y="1579.29"/><use href="#r" x="2337.39" y="1579.47"/><use href="#r" x="2341.02" y="1579.65"/><use href="#r" x="2344.59" y="1579.82"/><use href="#r" x="2348.09" y="1579.99"/><use href="#r" x="2351.55" y="1580.16"/><use href="#r" x="2354.94" y="1580.32"/><use href="#r" x="2358.28" y="1580.48"/><use href="#r" x="2361.57" y="1580.64"/><use href="#r" x="2364.81" y="1580.8"/><use href="#r" x="2368" y="1580.96"/><use href="#r" x="2371.15" y="1581.11"/><use href="#r" x="2374.25" y="1581.26"/><use href="#r" x="2377.3" y="1581.41"/><use href="#h" x="1475.69" y="1509.31"/><use href="#h" x="1622.79" y="1532.37"/><use href="#h" x="1708.84" y="1545.12"/><use href="#h" x="1769.89" y="1550"/><use href="#h" x="1817.24" y="1554.07"/><use href="#h" x="1855.94" y="1556.24"/><use href="#h" x="1888.65" y="1558.14"/><use href="#h" x="1916.99" y="1560.04"/><use href="#h" x="1941.98" y="1561.39"/><use href="#h" x="1964.34" y="1562.21"/><use href="#h" x="1984.57" y="1563.29"/><use href="#h" x="2003.03" y="1564.18"/><use href="#h" x="2020.02" y="1564.96"/><use href="#h" x="2035.75" y="1565.66"/><use href="#h" x="2050.39" y="1566.3"/><use href="#h" x="2064.09" y="1566.88"/><use href="#h" x="2076.95" y="1567.43"/><use href="#h" x="2089.08" y="1567.95"/><use href="#h" x="2100.56" y="1568.44"/><use href="#h" x="2111.44" y="1568.91"/><use href="#h" x="2121.8" y="1569.37"/><use href="#h" x="2131.67" y="1569.82"/><use href="#h" x="2141.1" y="1570.25"/><use href="#h" x="2150.13" y="1570.67"/><use href="#h" x="2158.8" y="1571.06"/><use href="#h" x="2167.12" y="1571.45"/><use href="#h" x="2175.13" y="1571.82" opacity="0.94"/><use href="#h" x="2182.85" y="1572.17" opacity="0.88"/><use href="#h" x="2190.29" y="1572.52" opacity="0.82"/><use href="#h" x="2197.49" y="1572.85" opacity="0.77"/><use href="#h" x="2204.45" y="1573.17" opacity="0.72"/><use href="#h" x="2211.18" y="1573.49" opacity="0.68"/><use href="#h" x="2217.71" y="1573.79" opacity="0.64"/><use href="#h" x="2224.05" y="1574.09" opacity="0.6"/><use href="#h" x="2230.2" y="1574.37" opacity="0.56"/><use href="#h" x="2236.18" y="1574.65" opacity="0.53"/><use href="#h" x="2241.99" y="1574.93" opacity="0.5"/><use href="#h" x="2247.65" y="1575.19" opacity="0.47"/><use href="#h" x="2253.17" y="1575.45" opacity="0.45"/><use href="#h" x="2258.54" y="1575.71" opacity="0.42"/><use href="#h" x="2263.78" y="1575.95" opacity="0.4"/><use href="#h" x="2268.89" y="1576.2" opacity="0.38"/><use href="#h" x="2273.89" y="1576.43" opacity="0.36"/><use href="#h" x="2278.77" y="1576.66" opacity="0.34"/><use href="#h" x="2283.54" y="1576.89" opacity="0.32"/><use href="#h" x="2288.2" y="1577.11" opacity="0.31"/><use href="#h" x="2292.76" y="1577.33" opacity="0.29"/><use href="#h" x="2297.23" y="1577.54" opacity="0.27"/><use href="#h" x="2301.61" y="1577.75" opacity="0.26"/><use href="#h" x="2305.89" y="1577.96" opacity="0.25"/><use href="#h" x="2310.1" y="1578.16" opacity="0.23"/><use href="#h" x="2314.22" y="1578.36" opacity="0.22"/><use href="#h" x="2318.26" y="1578.55" opacity="0.21"/><use href="#h" x="2322.23" y="1578.74" opacity="0.2"/><use href="#h" x="2326.12" y="1578.93" opacity="0.19"/><use href="#h" x="2329.94" y="1579.11" opacity="0.18"/><use href="#h" x="2333.7" y="1579.29" opacity="0.17"/><use href="#h" x="2337.39" y="1579.47" opacity="0.16"/><use href="#h" x="2341.02" y="1579.65" opacity="0.15"/><use href="#h" x="2344.59" y="1579.82" opacity="0.15"/><use href="#h" x="2348.09" y="1579.99" opacity="0.14"/><use href="#h" x="2351.55" y="1580.16" opacity="0.13"/><use href="#h" x="2354.94" y="1580.32" opacity="0.12"/><use href="#h" x="2358.28" y="1580.48" opacity="0.12"/><use href="#h" x="2361.57" y="1580.64" opacity="0.12"/><use href="#h" x="2364.81" y="1580.8" opacity="0.12"/><use href="#h" x="2368" y="1580.96" opacity="0.12"/><use href="#h" x="2371.15" y="1581.11" opacity="0.12"/><use href="#h" x="2374.25" y="1581.26" opacity="0.12"/><use href="#h" x="2377.3" y="1581.41"/>
<use href="#b" x="1475.69" y="1274.77"/><use href="#b" x="1622.79" y="1303.36"/><use href="#b" x="1708.84" y="1317.24"/><use href="#b" x="1769.89" y="1327.31"/><use href="#b" x="1817.24" y="1334.94"/><use href="#b" x="1855.94" y="1341.74"/><use href="#b" x="1888.65" y="1347.73"/><use href="#b" x="1916.99" y="1353.18"/><use href="#b" x="1941.98" y="1357.26"/><use href="#b" x="1964.34" y="1361.34"/><use href="#b" x="1984.57" y="1364.61"/><use href="#b" x="2003.03" y="1369.39"/><use href="#b" x="2020.02" y="1372.16"/><use href="#b" x="2035.75" y="1375.23"/><use href="#b" x="2050.39" y="1378"/><use href="#b" x="2064.09" y="1380.41"/><use href="#b" x="2076.95" y="1382.86"/><use href="#b" x="2089.08" y="1385.21"/><use href="#b" x="2100.56" y="1387.02"/><use href="#b" x="2111.44" y="1389.62"/><use href="#b" x="2121.8" y="1391.9"/><use href="#b" x="2131.67" y="1394.06"/><use href="#b" x="2141.1" y="1396.12"/><use href="#b" x="2150.13" y="1398.08"/><use href="#b" x="2158.8" y="1399.95"/><use href="#b" x="2167.12" y="1401.74"/><use href="#b" x="2175.13" y="1403.44"/><use href="#b" x="2182.85" y="1405.08"/><use href="#b" x="2190.29" y="1406.65"/><use href="#b" x="2197.49" y="1408.15"/><use href="#b" x="2204.45" y="1409.59"/><use href="#b" x="2211.18" y="1410.98"/><use href="#b" x="2217.71" y="1412.32"/><use href="#b" x="2224.05" y="1413.61"/><use href="#b" x="2230.2" y="1414.85"/><use href="#b" x="2236.18" y="1416.05"/><use href="#b" x="2241.99" y="1417.21"/><use href="#b" x="2247.65" y="1418.32"/><use href="#b" x="2253.17" y="1419.4"/><use href="#b" x="2258.54" y="1420.45"/><use href="#b" x="2263.78" y="1421.46"/><use href="#b" x="2268.89" y="1422.44"/><use href="#b" x="2273.89" y="1423.39"/><use href="#b" x="2278.77" y="1424.31"/><use href="#b" x="2283.54" y="1425.2"/><use href="#b" x="2288.2" y="1426.07"/><use href="#b" x="2292.76" y="1426.91"/><use href="#b" x="2297.23" y="1427.72"/><use href="#b" x="2301.61" y="1428.51"/><use href="#b" x="2305.89" y="1429.28"/><use href="#b" x="2310.1" y="1430.03"/><use href="#b" x="2314.22" y="1430.76"/><use href="#b" x="2318.26" y="1431.47"/><use href="#b" x="2322.23" y="1432.16"/><use href="#b" x="2326.12" y="1432.83"/><use href="#b" x="2329.94" y="1433.49"/><use href="#b" x="2333.7" y="1434.12"/><use href="#b" x="2337.39" y="1434.74"/><use href="#b" x="2341.02" y="1435.35"/><use href="#b" x="2344.59" y="1435.94"/><use href="#b" x="2348.09" y="1436.51"/><use href="#b" x="2351.55" y="1437.07"/><use href="#b" x="2354.94" y="1437.62"/><use href="#b" x="2358.28" y="1438.16"/><use href="#b" x="2361.57" y="1438.68"/><use href="#b" x="2364.81" y="1439.19"/><use href="#b" x="2368" y="1439.68"/><use href="#b" x="2371.15" y="1440.17"/><use href="#b" x="2374.25" y="1440.64"/><use href="#b" x="2377.3" y="1441.11"/><use href="#h" x="1475.69" y="1274.77"/><use href="#h" x="1622.79" y="1303.36"/><use href="#h" x="1708.84" y="1317.24"/><use href="#h" x="1769.89" y="1327.31"/><use href="#h" x="1817.24" y="1334.94"/><use href="#h" x="1855.94" y="1341.74"/><use href="#h" x="1888.65" y="1347.73"/><use href="#h" x="1916.99" y="1353.18"/><use href="#h" x="1941.98" y="1357.26"/><use href="#h" x="1964.34" y="1361.34"/><use href="#h" x="1984.57" y="1364.61"/><use href="#h" x="2003.03" y="1369.39"/><use href="#h" x="2020.02" y="1372.16"/><use href="#h" x="2035.75" y="1375.23"/><use href="#h" x="2050.39" y="1378"/><use href="#h" x="2064.09" y="1380.41"/><use href="#h" x="2076.95" y="1382.86"/><use href="#h" x="2089.08" y="1385.21"/><use href="#h" x="2100.56" y="1387.02"/><use href="#h" x="2111.44" y="1389.62"/><use href="#h" x="2121.8" y="1391.9"/><use href="#h" x="2131.67" y="1394.06"/><use href="#h" x="2141.1" y="1396.12"/><use href="#h" x="2150.13" y="1398.08"/><use href="#h" x="2158.8" y="1399.95"/><use href="#h" x="2167.12" y="1401.74"/><use href="#h" x="2175.13" y="1403.44" opacity="0.97"/><use href="#h" x="2182.85" y="1405.08" opacity="0.91"/><use href="#h" x="2190.29" y="1406.65" opacity="0.85"/><use href="#h" x="2197.49" y="1408.15" opacity="0.8"/><use href="#h" x="2204.45" y="1409.59" opacity="0.75"/><use href="#h" x="2211.18" y="1410.98" opacity="0.7"/><use href="#h" x="2217.71" y="1412.32" opacity="0.66"/><use href="#h" x="2224.05" y="1413.61" opacity="0.62"/><use href="#h" x="2230.2" y="1414.85" opacity="0.59"/><use href="#h" x="2236.18" y="1416.05" opacity="0.55"/><use href="#h" x="2241.99" y="1417.21" opacity="0.52"/><use href="#h" x="2247.65" y="1418.32" opacity="0.49"/><use href="#h" x="2253.17" y="1419.4" opacity="0.47"/><use href="#h" x="2258.54" y="1420.45" opacity="0.44"/><use href="#h" x="2263.78" y="1421.46" opacity="0.42"/><use href="#h" x="2268.89" y="1422.44" opacity="0.39"/><use href="#h" x="2273.89" y="1423.39" opacity="0.37"/><use href="#h" x="2278.77" y="1424.31" opacity="0.35"/><use href="#h" x="2283.54" y="1425.2" opacity="0.33"/><use href="#h" x="2288.2" y="1426.07" opacity="0.32"/><use href="#h" x="2292.76" y="1426.91" opacity="0.3"/><use href="#h" x="2297.23" y="1427.72" opacity="0.28"/><use href="#h" x="2301.61" y="1428.51" opacity="0.27"/><use href="#h" x="2305.89" y="1429.28" opacity="0.26"/><use href="#h" x="2310.1" y="1430.03" opacity="0.24"/><use href="#h" x="2314.22" y="1430.76" opacity="0.23"/><use href="#h" x="2318.26" y="1431.47" opacity="0.22"/><use href="#h" x="2322.23" y="1432.16" opacity="0.21"/><use href="#h" x="2326.12" y="1432.83" opacity="0.2"/><use href="#h" x="2329.94" y="1433.49" opacity="0.19"/><use href="#h" x="2333.7" y="1434.12" opacity="0.18"/><use href="#h" x="2337.39" y="1434.74" opacity="0.17"/><use href="#h" x="2341.02" y="1435.35" opacity="0.16"/><use href="#h" x="2344.59" y="1435.94" opacity="0.15"/><use href="#h" x="2348.09" y="1436.51" opacity="0.14"/><use href="#h" x="2351.55" y="1437.07" opacity="0.14"/><use href="#h" x="2354.94" y="1437.62" opacity="0.13"/><use href="#h" x="2358.28" y="1438.16" opacity="0.12"/><use href="#h" x="2361.57" y="1438.68" opacity="0.12"/><use href="#h" x="2364.81" y="1439.19" opacity="0.12"/><use href="#h" x="2368" y="1439.68" opacity="0.12"/><use href="#h" x="2371.15" y="1440.17" opacity="0.12"/><use href="#h" x="2374.25" y="1440.64" opacity="0.12"/><use href="#h" x="2377.3" y="1441.11"/>
<use href="#t" x="1475.69" y="1144.1"/><use href="#t" x="1622.79" y="1198"/><use href="#t" x="1708.84" y="1214.88"/><use href="#t" x="1769.89" y="1225.77"/><use href="#t" x="1817.24" y="1233.39"/><use href="#t" x="1855.94" y="1239.38"/><use href="#t" x="1888.65" y="1245.1"/><use href="#t" x="1916.99" y="1251.36"/><use href="#t" x="1941.98" y="1257.89"/><use href="#t" x="1964.34" y="1262.79"/><use href="#t" x="1984.57" y="1266.61"/><use href="#t" x="2003.03" y="1271.81"/><use href="#t" x="2020.02" y="1274.13"/><use href="#t" x="2035.75" y="1277.69"/><use href="#t" x="2050.39" y="1280.74"/><use href="#t" x="2064.09" y="1284.1"/><use href="#t" x="2076.95" y="1284.87"/><use href="#t" x="2089.08" y="1290.65"/><use href="#t" x="2100.56" y="1291.96"/><use href="#t" x="2111.44" y="1297.8"/><use href="#t" x="2121.8" y="1299.01"/><use href="#t" x="2131.67" y="1300.67"/><use href="#t" x="2141.1" y="1302.23"/><use href="#t" x="2150.13" y="1304.42"/><use href="#t" x="2158.8" y="1305.95"/><use href="#t" x="2167.12" y="1308.5"/><use href="#t" x="2175.13" y="1311.8"/><use href="#t" x="2182.85" y="1311.43"/><use href="#t" x="2190.29" y="1304.48"/><use href="#t" x="2197.49" y="1313.8"/><use href="#t" x="2204.45" y="1314.49"/><use href="#t" x="2211.18" y="1318.59"/><use href="#t" x="2217.71" y="1318.59"/><use href="#t" x="2224.05" y="1318.95"/><use href="#t" x="2230.2" y="1321.7"/><use href="#t" x="2236.18" y="1325.25"/><use href="#t" x="2241.99" y="1324.42"/><use href="#t" x="2247.65" y="1314.05"/><use href="#t" x="2253.17" y="1331.72"/><use href="#t" x="2258.54" y="1343.15"/><use href="#t" x="2263.78" y="1332.64"/><use href="#t" x="2268.89" y="1330.66"/><use href="#t" x="2273.89" y="1332.43"/><use href="#t" x="2278.77" y="1334.72"/><use href="#t" x="2283.54" y="1336.48"/><use href="#t" x="2288.2" y="1337.76"/><use href="#t" x="2292.76" y="1338.91"/><use href="#t" x="2297.23" y="1339.97"/><use href="#t" x="2301.61" y="1341"/><use href="#t" x="2305.89" y="1342.04"/><use href="#t" x="2310.1" y="1343.11"/><use href="#t" x="2314.22" y="1344.21"/><use href="#t" x="2318.26" y="1345.28"/><use href="#t" x="2322.23" y="1346.29"/><use href="#t" x="2326.12" y="1347.22"/><use href="#t" x="2329.94" y="1348.03"/><use href="#t" x="2333.7" y="1348.67"/><use href="#t" x="2337.39" y="1349.17"/><use href="#t" x="2341.02" y="1349.64"/><use href="#t" x="2344.59" y="1350.17"/><use href="#t" x="2348.09" y="1350.83"/><use href="#t" x="2351.55" y="1351.73"/><use href="#t" x="2354.94" y="1353.46"/><use href="#t" x="2358.28" y="1355.75"/><use href="#t" x="2361.57" y="1357.97"/><use href="#t" x="2364.81" y="1359.78"/><use href="#t" x="2368" y="1361.46"/><use href="#t" x="2371.15" y="1363.06"/><use href="#t" x="2374.25" y="1364.55"/><use href="#t" x="2377.3" y="1365.96"/><use href="#h" x="1475.69" y="1144.1"/><use href="#h" x="1622.79" y="1198"/><use href="#h" x="1708.84" y="1214.88"/><use href="#h" x="1769.89" y="1225.77"/><use href="#h" x="1817.24" y="1233.39"/><use href="#h" x="1855.94" y="1239.38"/><use href="#h" x="1888.65" y="1245.1"/><use href="#h" x="1916.99" y="1251.36"/><use href="#h" x="1941.98" y="1257.89"/><use href="#h" x="1964.34" y="1262.79"/><use href="#h" x="1984.57" y="1266.61"/><use href="#h" x="2003.03" y="1271.81"/><use href="#h" x="2020.02" y="1274.13"/><use href="#h" x="2035.75" y="1277.69"/><use href="#h" x="2050.39" y="1280.74"/><use href="#h" x="2064.09" y="1284.1"/><use href="#h" x="2076.95" y="1284.87"/><use href="#h" x="2089.08" y="1290.65"/><use href="#h" x="2100.56" y="1291.96"/><use href="#h" x="2111.44" y="1297.8"/><use href="#h" x="2121.8" y="1299.01"/><use href="#h" x="2131.67" y="1300.67"/><use href="#h" x="2141.1" y="1302.23"/><use href="#h" x="2150.13" y="1304.42"/><use href="#h" x="2158.8" y="1305.95"/><use href="#h" x="2167.12" y="1308.5"/><use href="#h" x="2175.13" y="1311.8" opacity="0.94"/><use href="#h" x="2182.85" y="1311.43"/><use href="#h" x="2190.29" y="1304.48"/><use href="#h" x="2197.49" y="1313.8" opacity="0.77"/><use href="#h" x="2204.45" y="1314.49" opacity="0.97"/><use href="#h" x="2211.18" y="1318.59" opacity="0.67"/><use href="#h" x="2217.71" y="1318.59" opacity="0.64"/><use href="#h" x="2224.05" y="1318.95" opacity="0.72"/><use href="#h" x="2230.2" y="1321.7" opacity="0.76"/><use href="#h" x="2236.18" y="1325.25" opacity="0.54"/><use href="#h" x="2241.99" y="1324.42"/><use href="#h" x="2247.65" y="1314.05"/><use href="#h" x="2253.17" y="1331.72"/><use href="#h" x="2258.54" y="1343.15"/><use href="#h" x="2263.78" y="1332.64" opacity="0.47"/><use href="#h" x="2268.89" y="1330.66" opacity="0.43"/><use href="#h" x="2273.89" y="1332.43" opacity="0.45"/><use href="#h" x="2278.77" y="1334.72" opacity="0.39"/><use href="#h" x="2283.54" y="1336.48" opacity="0.35"/><use href="#h" x="2288.2" y="1337.76" opacity="0.33"/><use href="#h" x="2292.76" y="1338.91" opacity="0.31"/><use href="#h" x="2297.23" y="1339.97" opacity="0.29"/><use href="#h" x="2301.61" y="1341" opacity="0.28"/><use href="#h" x="2305.89" y="1342.04" opacity="0.27"/><use href="#h" x="2310.1" y="1343.11" opacity="0.26"/><use href="#h" x="2314.22" y="1344.21" opacity="0.24"/><use href="#h" x="2318.26" y="1345.28" opacity="0.23"/><use href="#h" x="2322.23" y="1346.29" opacity="0.22"/><use href="#h" x="2326.12" y="1347.22" opacity="0.2"/><use href="#h" x="2329.94" y="1348.03" opacity="0.19"/><use href="#h" x="2333.7" y="1348.67" opacity="0.17"/><use href="#h" x="2337.39" y="1349.17" opacity="0.17"/><use href="#h" x="2341.02" y="1349.64" opacity="0.16"/><use href="#h" x="2344.59" y="1350.17" opacity="0.15"/><use href="#h" x="2348.09" y="1350.83" opacity="0.15"/><use href="#h" x="2351.55" y="1351.73" opacity="0.19"/><use href="#h" x="2354.94" y="1353.46" opacity="0.22"/><use href="#h" x="2358.28" y="1355.75" opacity="0.21"/><use href="#h" x="2361.57" y="1357.97" opacity="0.17"/><use href="#h" x="2364.81" y="1359.78" opacity="0.16"/><use href="#h" x="2368" y="1361.46" opacity="0.15"/><use href="#h" x="2371.15" y="1363.06" opacity="0.14"/><use href="#h" x="2374.25" y="1364.55" opacity="0.13"/><use href="#h" x="2377.3" y="1365.96"/>
</g>
<text transform="translate(1427 1042) scale(1.0000 1.0000)" font-size="82" fill="#000">(d)</text>
<text transform="translate(1769.99 1034) scale(1.0141 1.0000)" font-size="51" fill="#000">H=10 mT</text>
<use href="#k" x="2153.1" y="1009.2"/><use href="#h" x="2153.1" y="1009.2"/>
<text transform="translate(2203.77 1021.6) scale(1.0066 1.0000)" font-size="51" fill="#000">10 wt%</text>
<use href="#r" x="2153.1" y="1073"/><use href="#h" x="2153.1" y="1073"/>
<text transform="translate(2203.95 1085) scale(1.0260 1.0000)" font-size="51" fill="#000">20 wt%</text>
<use href="#b" x="2153.1" y="1136.5"/><use href="#h" x="2153.1" y="1136.5"/>
<text transform="translate(2201.96 1148.6) scale(1.0182 1.0000)" font-size="51" fill="#000">30 wt%</text>
<use href="#t" x="2153.1" y="1200"/><use href="#h" x="2153.1" y="1200"/>
<text transform="translate(2200.98 1212) scale(1.0245 1.0000)" font-size="51" fill="#000">40 wt%</text>
</g>
</svg>
</body></html>
